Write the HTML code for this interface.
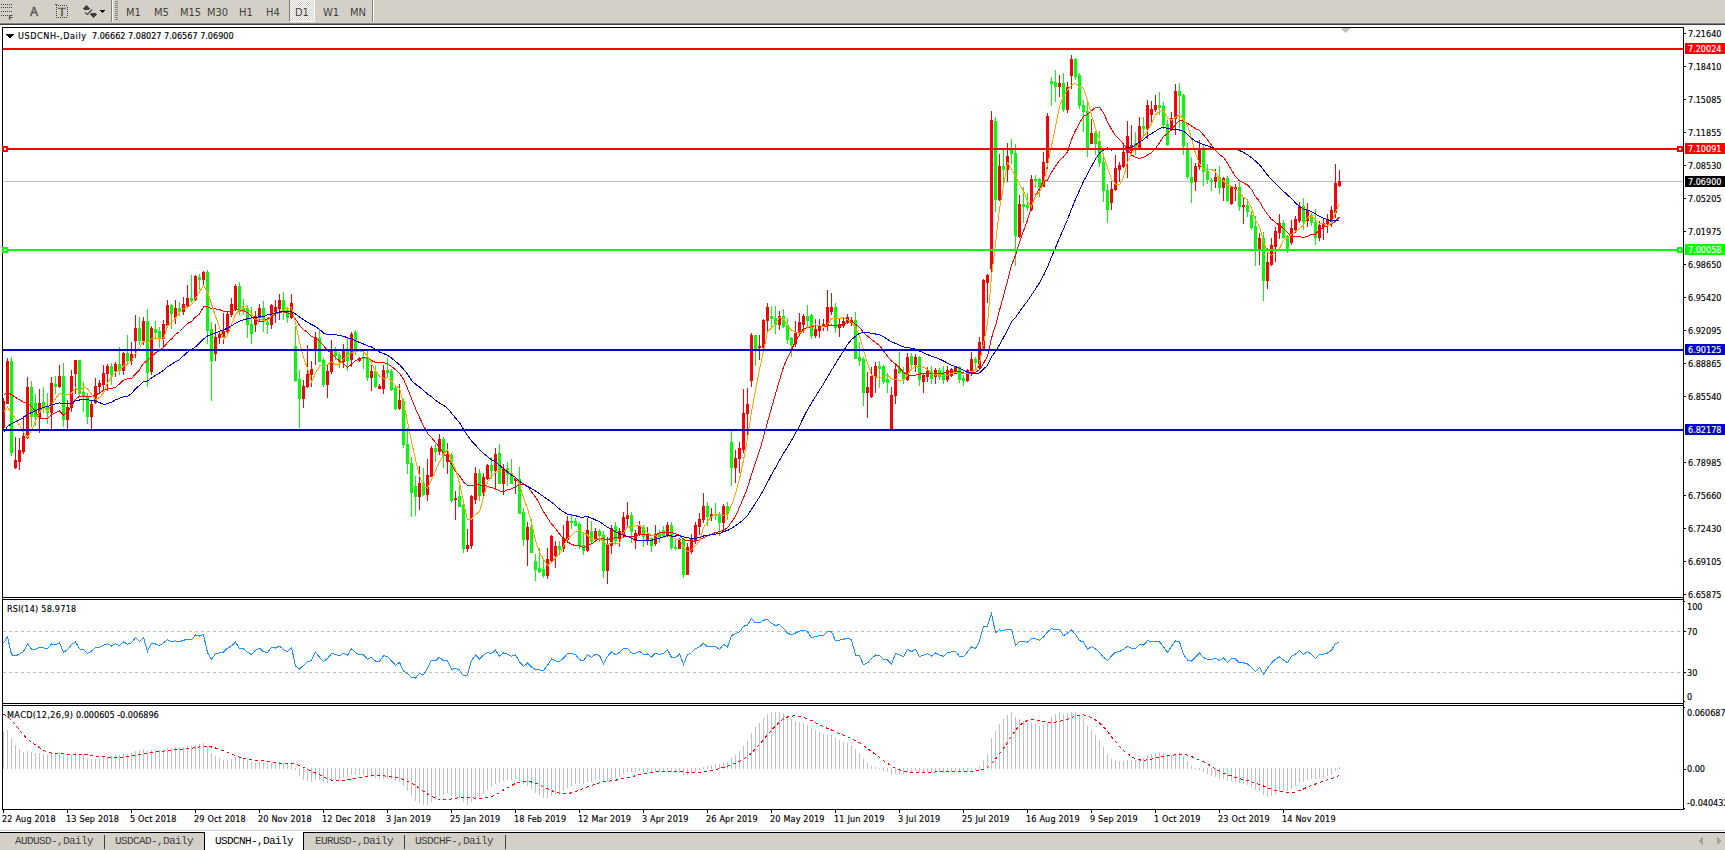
<!DOCTYPE html>
<html><head><meta charset="utf-8"><title>USDCNH-,Daily</title>
<style>
html,body{margin:0;padding:0;background:#fff}
body{width:1725px;height:850px;position:relative;overflow:hidden;font-family:"Liberation Sans",sans-serif}
#tb{position:absolute;left:0;top:0;width:1725px;height:23px;background:#d4d0c8;border-bottom:1px solid #808080}
#tb2{position:absolute;left:0;top:24px;width:1725px;height:1px;background:#404040}
.tf{position:absolute;top:6px;font-family:"DejaVu Sans Condensed","DejaVu Sans","Liberation Sans",sans-serif;font-stretch:condensed;font-size:11px;color:#404040;white-space:nowrap;line-height:13px}
#d1{position:absolute;left:289px;top:0;width:24px;height:21px;background-color:#d4d0c8;background-image:linear-gradient(45deg,#fff 25%,transparent 25%,transparent 75%,#fff 75%),linear-gradient(45deg,#fff 25%,transparent 25%,transparent 75%,#fff 75%);background-size:2px 2px;background-position:0 0,1px 1px;border-left:1px solid #808080;border-right:1px solid #fff;border-bottom:1px solid #fff}
.sep{position:absolute;top:0;width:1px;height:22px;background:#808080;border-right:1px solid #fff}
svg{position:absolute;left:0;top:0}
.ax{position:absolute;font-family:"DejaVu Sans Condensed","DejaVu Sans","Liberation Sans",sans-serif;font-stretch:condensed;font-size:9px;line-height:11px;color:#000;white-space:nowrap;-webkit-text-stroke:.15px}
.bx{position:absolute;left:1685px;width:40px;height:11px;font-family:"DejaVu Sans Condensed","DejaVu Sans","Liberation Sans",sans-serif;font-stretch:condensed;font-size:9px;line-height:11px;white-space:nowrap;overflow:hidden;-webkit-text-stroke:.15px}
.bx span{display:block;position:relative;left:3px;top:1px}
#tabs{position:absolute;left:0;top:833px;width:1725px;height:17px;background:#d4d0c8}
#tabtop{position:absolute;left:0;top:830px;width:1725px;height:1px;background:#d6d2ca}
#tabline{position:absolute;left:0;top:832px;width:1725px;height:1px;background:#000}
#act{position:absolute;left:204px;top:832px;width:98px;height:18px;background:#fff;border-left:1px solid #000;border-right:1px solid #000}
.tab{position:absolute;top:835px;font-family:"Liberation Mono",monospace;font-size:11px;letter-spacing:-.6px;line-height:12px;color:#404040;white-space:nowrap}
.tsep{position:absolute;top:835px;width:1px;height:14px;background:#404040}
</style></head><body>
<div id="tb"></div><div id="tb2"></div>
<div id="d1"></div>
<div class="sep" style="left:111px"></div><div class="sep" style="left:372px"></div>
<div class="tf" style="left:126px">M1</div><div class="tf" style="left:154px">M5</div><div class="tf" style="left:180px">M15</div><div class="tf" style="left:207px">M30</div><div class="tf" style="left:239px">H1</div><div class="tf" style="left:266px">H4</div><div class="tf" style="left:295px">D1</div><div class="tf" style="left:323px">W1</div><div class="tf" style="left:350px">MN</div>
<div class="tf" style="left:30px;top:6px;font-family:'Liberation Sans',sans-serif;font-size:12px;-webkit-text-stroke:.4px;color:#505050">A</div>
<div class="tf" style="left:58px;top:6px;font-family:'Liberation Sans',sans-serif;font-size:11.5px;color:#5a5a5a;-webkit-text-stroke:.4px;transform:scaleX(1.12);transform-origin:0 0">T</div>
<div class="tf" style="left:8.5px;top:13px;font-family:'Liberation Sans',sans-serif;font-size:7px;font-weight:bold;line-height:9px;color:#404040">F</div>
<div id="tabs"></div><div id="tabtop"></div><div id="tabline"></div><div id="act"></div>
<div class="tab" style="left:15px">AUDUSD-,Daily</div><div class="tsep" style="left:104px"></div>
<div class="tab" style="left:115px">USDCAD-,Daily</div>
<div class="tab" style="left:215px;color:#000">USDCNH-,Daily</div>
<div class="tab" style="left:315px">EURUSD-,Daily</div><div class="tsep" style="left:404px"></div>
<div class="tab" style="left:415px">USDCHF-,Daily</div><div class="tsep" style="left:505px"></div>
<svg width="1725" height="850" viewBox="0 0 1725 850" shape-rendering="crispEdges">
<defs><clipPath id="cm"><rect x="3" y="28" width="1680" height="569"/></clipPath>
<clipPath id="cr"><rect x="3" y="600" width="1680" height="103"/></clipPath>
<clipPath id="cd"><rect x="3" y="706" width="1680" height="103"/></clipPath></defs>
<rect x="3" y="181" width="1680" height="1" fill="#c0c0c0"/>
<g clip-path="url(#cm)"><rect x="3" y="398" width="1" height="31" fill="#ff0000"/><rect x="2" y="401" width="3" height="27" fill="#ff0000"/><rect x="7" y="358" width="1" height="46" fill="#ff0000"/><rect x="6" y="361" width="3" height="43" fill="#ff0000"/><rect x="11" y="357" width="1" height="99" fill="#00ff00"/><rect x="10" y="361" width="3" height="92" fill="#00ff00"/><rect x="15" y="437" width="1" height="32" fill="#ff0000"/><rect x="14" y="460" width="3" height="8" fill="#ff0000"/><rect x="19" y="438" width="1" height="32" fill="#ff0000"/><rect x="18" y="450" width="3" height="12" fill="#ff0000"/><rect x="23" y="416" width="1" height="38" fill="#ff0000"/><rect x="22" y="436" width="3" height="16" fill="#ff0000"/><rect x="27" y="377" width="1" height="62" fill="#ff0000"/><rect x="26" y="387" width="3" height="51" fill="#ff0000"/><rect x="31" y="381" width="1" height="46" fill="#00ff00"/><rect x="30" y="387" width="3" height="30" fill="#00ff00"/><rect x="35" y="394" width="1" height="32" fill="#00ff00"/><rect x="34" y="403" width="3" height="14" fill="#00ff00"/><rect x="39" y="389" width="1" height="44" fill="#ff0000"/><rect x="38" y="403" width="3" height="14" fill="#ff0000"/><rect x="43" y="387" width="1" height="26" fill="#00ff00"/><rect x="42" y="402" width="3" height="6" fill="#00ff00"/><rect x="47" y="393" width="1" height="31" fill="#00ff00"/><rect x="46" y="407" width="3" height="6" fill="#00ff00"/><rect x="51" y="377" width="1" height="53" fill="#ff0000"/><rect x="50" y="383" width="3" height="30" fill="#ff0000"/><rect x="55" y="376" width="1" height="18" fill="#00ff00"/><rect x="54" y="384" width="3" height="3" fill="#00ff00"/><rect x="59" y="365" width="1" height="23" fill="#ff0000"/><rect x="58" y="376" width="3" height="11" fill="#ff0000"/><rect x="63" y="363" width="1" height="64" fill="#00ff00"/><rect x="62" y="376" width="3" height="44" fill="#00ff00"/><rect x="67" y="400" width="1" height="30" fill="#ff0000"/><rect x="66" y="407" width="3" height="13" fill="#ff0000"/><rect x="71" y="370" width="1" height="42" fill="#ff0000"/><rect x="70" y="376" width="3" height="32" fill="#ff0000"/><rect x="75" y="360" width="1" height="34" fill="#ff0000"/><rect x="74" y="360" width="3" height="14" fill="#ff0000"/><rect x="79" y="360" width="1" height="37" fill="#00ff00"/><rect x="78" y="360" width="3" height="34" fill="#00ff00"/><rect x="83" y="382" width="1" height="30" fill="#00ff00"/><rect x="82" y="392" width="3" height="5" fill="#00ff00"/><rect x="87" y="393" width="1" height="31" fill="#00ff00"/><rect x="86" y="396" width="3" height="21" fill="#00ff00"/><rect x="91" y="400" width="1" height="30" fill="#ff0000"/><rect x="90" y="404" width="3" height="13" fill="#ff0000"/><rect x="95" y="378" width="1" height="26" fill="#ff0000"/><rect x="94" y="386" width="3" height="17" fill="#ff0000"/><rect x="99" y="380" width="1" height="13" fill="#ff0000"/><rect x="98" y="383" width="3" height="4" fill="#ff0000"/><rect x="103" y="365" width="1" height="25" fill="#ff0000"/><rect x="102" y="373" width="3" height="12" fill="#ff0000"/><rect x="107" y="364" width="1" height="27" fill="#ff0000"/><rect x="106" y="366" width="3" height="8" fill="#ff0000"/><rect x="111" y="363" width="1" height="22" fill="#00ff00"/><rect x="110" y="366" width="3" height="9" fill="#00ff00"/><rect x="115" y="362" width="1" height="15" fill="#ff0000"/><rect x="114" y="364" width="3" height="7" fill="#ff0000"/><rect x="119" y="347" width="1" height="28" fill="#00ff00"/><rect x="118" y="364" width="3" height="7" fill="#00ff00"/><rect x="123" y="352" width="1" height="23" fill="#ff0000"/><rect x="122" y="353" width="3" height="18" fill="#ff0000"/><rect x="127" y="335" width="1" height="29" fill="#00ff00"/><rect x="126" y="353" width="3" height="8" fill="#00ff00"/><rect x="131" y="342" width="1" height="23" fill="#ff0000"/><rect x="130" y="354" width="3" height="7" fill="#ff0000"/><rect x="135" y="315" width="1" height="43" fill="#ff0000"/><rect x="134" y="328" width="3" height="13" fill="#ff0000"/><rect x="139" y="317" width="1" height="28" fill="#00ff00"/><rect x="138" y="328" width="3" height="13" fill="#00ff00"/><rect x="143" y="317" width="1" height="28" fill="#ff0000"/><rect x="142" y="321" width="3" height="20" fill="#ff0000"/><rect x="147" y="309" width="1" height="78" fill="#00ff00"/><rect x="146" y="321" width="3" height="52" fill="#00ff00"/><rect x="151" y="326" width="1" height="49" fill="#ff0000"/><rect x="150" y="328" width="3" height="44" fill="#ff0000"/><rect x="155" y="321" width="1" height="18" fill="#00ff00"/><rect x="154" y="329" width="3" height="4" fill="#00ff00"/><rect x="159" y="327" width="1" height="21" fill="#00ff00"/><rect x="158" y="331" width="3" height="8" fill="#00ff00"/><rect x="163" y="320" width="1" height="28" fill="#ff0000"/><rect x="162" y="324" width="3" height="15" fill="#ff0000"/><rect x="167" y="300" width="1" height="27" fill="#ff0000"/><rect x="166" y="305" width="3" height="21" fill="#ff0000"/><rect x="171" y="304" width="1" height="25" fill="#00ff00"/><rect x="170" y="305" width="3" height="9" fill="#00ff00"/><rect x="175" y="300" width="1" height="24" fill="#ff0000"/><rect x="174" y="308" width="3" height="10" fill="#ff0000"/><rect x="179" y="302" width="1" height="14" fill="#00ff00"/><rect x="178" y="308" width="3" height="4" fill="#00ff00"/><rect x="183" y="297" width="1" height="18" fill="#ff0000"/><rect x="182" y="304" width="3" height="8" fill="#ff0000"/><rect x="187" y="285" width="1" height="22" fill="#ff0000"/><rect x="186" y="298" width="3" height="8" fill="#ff0000"/><rect x="191" y="275" width="1" height="28" fill="#00ff00"/><rect x="190" y="298" width="3" height="3" fill="#00ff00"/><rect x="195" y="275" width="1" height="26" fill="#ff0000"/><rect x="194" y="276" width="3" height="24" fill="#ff0000"/><rect x="199" y="274" width="1" height="16" fill="#00ff00"/><rect x="198" y="277" width="3" height="3" fill="#00ff00"/><rect x="203" y="271" width="1" height="14" fill="#ff0000"/><rect x="202" y="272" width="3" height="8" fill="#ff0000"/><rect x="207" y="270" width="1" height="74" fill="#00ff00"/><rect x="206" y="272" width="3" height="59" fill="#00ff00"/><rect x="211" y="322" width="1" height="79" fill="#00ff00"/><rect x="210" y="329" width="3" height="32" fill="#00ff00"/><rect x="215" y="324" width="1" height="37" fill="#ff0000"/><rect x="214" y="337" width="3" height="17" fill="#ff0000"/><rect x="219" y="332" width="1" height="12" fill="#ff0000"/><rect x="218" y="334" width="3" height="4" fill="#ff0000"/><rect x="223" y="313" width="1" height="31" fill="#ff0000"/><rect x="222" y="331" width="3" height="7" fill="#ff0000"/><rect x="227" y="311" width="1" height="22" fill="#ff0000"/><rect x="226" y="314" width="3" height="18" fill="#ff0000"/><rect x="231" y="298" width="1" height="19" fill="#ff0000"/><rect x="230" y="304" width="3" height="11" fill="#ff0000"/><rect x="235" y="284" width="1" height="27" fill="#ff0000"/><rect x="234" y="286" width="3" height="24" fill="#ff0000"/><rect x="239" y="282" width="1" height="33" fill="#00ff00"/><rect x="238" y="286" width="3" height="26" fill="#00ff00"/><rect x="243" y="299" width="1" height="16" fill="#00ff00"/><rect x="242" y="308" width="3" height="4" fill="#00ff00"/><rect x="247" y="305" width="1" height="33" fill="#00ff00"/><rect x="246" y="308" width="3" height="17" fill="#00ff00"/><rect x="251" y="307" width="1" height="37" fill="#00ff00"/><rect x="250" y="324" width="3" height="10" fill="#00ff00"/><rect x="255" y="311" width="1" height="21" fill="#ff0000"/><rect x="254" y="316" width="3" height="9" fill="#ff0000"/><rect x="259" y="304" width="1" height="18" fill="#ff0000"/><rect x="258" y="308" width="3" height="10" fill="#ff0000"/><rect x="263" y="301" width="1" height="31" fill="#00ff00"/><rect x="262" y="308" width="3" height="14" fill="#00ff00"/><rect x="267" y="318" width="1" height="16" fill="#00ff00"/><rect x="266" y="322" width="3" height="3" fill="#00ff00"/><rect x="271" y="304" width="1" height="25" fill="#ff0000"/><rect x="270" y="305" width="3" height="20" fill="#ff0000"/><rect x="275" y="300" width="1" height="23" fill="#ff0000"/><rect x="274" y="307" width="3" height="5" fill="#ff0000"/><rect x="279" y="294" width="1" height="26" fill="#ff0000"/><rect x="278" y="300" width="3" height="9" fill="#ff0000"/><rect x="283" y="292" width="1" height="28" fill="#00ff00"/><rect x="282" y="300" width="3" height="11" fill="#00ff00"/><rect x="287" y="307" width="1" height="16" fill="#00ff00"/><rect x="286" y="310" width="3" height="8" fill="#00ff00"/><rect x="291" y="294" width="1" height="25" fill="#ff0000"/><rect x="290" y="303" width="3" height="15" fill="#ff0000"/><rect x="295" y="326" width="1" height="56" fill="#00ff00"/><rect x="294" y="346" width="3" height="35" fill="#00ff00"/><rect x="299" y="370" width="1" height="58" fill="#00ff00"/><rect x="298" y="379" width="3" height="20" fill="#00ff00"/><rect x="303" y="380" width="1" height="28" fill="#ff0000"/><rect x="302" y="386" width="3" height="13" fill="#ff0000"/><rect x="307" y="345" width="1" height="43" fill="#ff0000"/><rect x="306" y="374" width="3" height="13" fill="#ff0000"/><rect x="311" y="361" width="1" height="26" fill="#ff0000"/><rect x="310" y="369" width="3" height="6" fill="#ff0000"/><rect x="315" y="332" width="1" height="33" fill="#ff0000"/><rect x="314" y="337" width="3" height="14" fill="#ff0000"/><rect x="319" y="330" width="1" height="32" fill="#00ff00"/><rect x="318" y="338" width="3" height="24" fill="#00ff00"/><rect x="323" y="358" width="1" height="29" fill="#00ff00"/><rect x="322" y="360" width="3" height="25" fill="#00ff00"/><rect x="327" y="365" width="1" height="33" fill="#ff0000"/><rect x="326" y="371" width="3" height="14" fill="#ff0000"/><rect x="331" y="340" width="1" height="34" fill="#ff0000"/><rect x="330" y="351" width="3" height="21" fill="#ff0000"/><rect x="335" y="347" width="1" height="13" fill="#00ff00"/><rect x="334" y="351" width="3" height="5" fill="#00ff00"/><rect x="339" y="352" width="1" height="16" fill="#00ff00"/><rect x="338" y="355" width="3" height="7" fill="#00ff00"/><rect x="343" y="344" width="1" height="24" fill="#ff0000"/><rect x="342" y="351" width="3" height="11" fill="#ff0000"/><rect x="347" y="338" width="1" height="33" fill="#00ff00"/><rect x="346" y="351" width="3" height="10" fill="#00ff00"/><rect x="351" y="332" width="1" height="35" fill="#ff0000"/><rect x="350" y="334" width="3" height="26" fill="#ff0000"/><rect x="355" y="330" width="1" height="25" fill="#00ff00"/><rect x="354" y="332" width="3" height="18" fill="#00ff00"/><rect x="359" y="357" width="1" height="5" fill="#ff0000"/><rect x="358" y="358" width="3" height="3" fill="#ff0000"/><rect x="363" y="351" width="1" height="18" fill="#00ff00"/><rect x="362" y="357" width="3" height="2" fill="#00ff00"/><rect x="367" y="351" width="1" height="30" fill="#00ff00"/><rect x="366" y="358" width="3" height="20" fill="#00ff00"/><rect x="371" y="365" width="1" height="26" fill="#ff0000"/><rect x="370" y="371" width="3" height="7" fill="#ff0000"/><rect x="375" y="366" width="1" height="22" fill="#00ff00"/><rect x="374" y="371" width="3" height="16" fill="#00ff00"/><rect x="379" y="384" width="1" height="5" fill="#ff0000"/><rect x="378" y="386" width="3" height="3" fill="#ff0000"/><rect x="383" y="365" width="1" height="29" fill="#ff0000"/><rect x="382" y="370" width="3" height="19" fill="#ff0000"/><rect x="387" y="358" width="1" height="20" fill="#00ff00"/><rect x="386" y="370" width="3" height="3" fill="#00ff00"/><rect x="391" y="369" width="1" height="22" fill="#00ff00"/><rect x="390" y="371" width="3" height="19" fill="#00ff00"/><rect x="395" y="386" width="1" height="24" fill="#00ff00"/><rect x="394" y="388" width="3" height="21" fill="#00ff00"/><rect x="399" y="384" width="1" height="26" fill="#ff0000"/><rect x="398" y="400" width="3" height="9" fill="#ff0000"/><rect x="403" y="398" width="1" height="50" fill="#00ff00"/><rect x="402" y="401" width="3" height="44" fill="#00ff00"/><rect x="407" y="428" width="1" height="46" fill="#00ff00"/><rect x="406" y="444" width="3" height="20" fill="#00ff00"/><rect x="411" y="457" width="1" height="60" fill="#00ff00"/><rect x="410" y="463" width="3" height="30" fill="#00ff00"/><rect x="415" y="476" width="1" height="40" fill="#00ff00"/><rect x="414" y="486" width="3" height="11" fill="#00ff00"/><rect x="419" y="466" width="1" height="44" fill="#ff0000"/><rect x="418" y="483" width="3" height="14" fill="#ff0000"/><rect x="423" y="468" width="1" height="28" fill="#00ff00"/><rect x="422" y="483" width="3" height="12" fill="#00ff00"/><rect x="427" y="459" width="1" height="42" fill="#ff0000"/><rect x="426" y="475" width="3" height="20" fill="#ff0000"/><rect x="431" y="446" width="1" height="31" fill="#ff0000"/><rect x="430" y="448" width="3" height="29" fill="#ff0000"/><rect x="435" y="444" width="1" height="18" fill="#00ff00"/><rect x="434" y="448" width="3" height="4" fill="#00ff00"/><rect x="439" y="434" width="1" height="21" fill="#ff0000"/><rect x="438" y="439" width="3" height="13" fill="#ff0000"/><rect x="443" y="437" width="1" height="31" fill="#00ff00"/><rect x="442" y="439" width="3" height="17" fill="#00ff00"/><rect x="447" y="443" width="1" height="31" fill="#ff0000"/><rect x="446" y="454" width="3" height="8" fill="#ff0000"/><rect x="451" y="453" width="1" height="50" fill="#00ff00"/><rect x="450" y="455" width="3" height="46" fill="#00ff00"/><rect x="455" y="491" width="1" height="29" fill="#ff0000"/><rect x="454" y="498" width="3" height="2" fill="#ff0000"/><rect x="459" y="486" width="1" height="21" fill="#00ff00"/><rect x="458" y="496" width="3" height="11" fill="#00ff00"/><rect x="463" y="504" width="1" height="49" fill="#00ff00"/><rect x="462" y="505" width="3" height="44" fill="#00ff00"/><rect x="467" y="529" width="1" height="23" fill="#ff0000"/><rect x="466" y="545" width="3" height="4" fill="#ff0000"/><rect x="471" y="495" width="1" height="54" fill="#ff0000"/><rect x="470" y="496" width="3" height="50" fill="#ff0000"/><rect x="475" y="467" width="1" height="37" fill="#ff0000"/><rect x="474" y="473" width="3" height="27" fill="#ff0000"/><rect x="479" y="469" width="1" height="32" fill="#00ff00"/><rect x="478" y="473" width="3" height="23" fill="#00ff00"/><rect x="483" y="473" width="1" height="24" fill="#ff0000"/><rect x="482" y="477" width="3" height="16" fill="#ff0000"/><rect x="487" y="464" width="1" height="16" fill="#ff0000"/><rect x="486" y="465" width="3" height="14" fill="#ff0000"/><rect x="491" y="457" width="1" height="22" fill="#00ff00"/><rect x="490" y="465" width="3" height="6" fill="#00ff00"/><rect x="495" y="448" width="1" height="42" fill="#ff0000"/><rect x="494" y="454" width="3" height="17" fill="#ff0000"/><rect x="499" y="444" width="1" height="40" fill="#00ff00"/><rect x="498" y="453" width="3" height="31" fill="#00ff00"/><rect x="503" y="464" width="1" height="31" fill="#ff0000"/><rect x="502" y="468" width="3" height="16" fill="#ff0000"/><rect x="507" y="462" width="1" height="24" fill="#00ff00"/><rect x="506" y="468" width="3" height="7" fill="#00ff00"/><rect x="511" y="459" width="1" height="25" fill="#00ff00"/><rect x="510" y="473" width="3" height="11" fill="#00ff00"/><rect x="515" y="477" width="1" height="17" fill="#ff0000"/><rect x="514" y="478" width="3" height="3" fill="#ff0000"/><rect x="519" y="467" width="1" height="47" fill="#00ff00"/><rect x="518" y="479" width="3" height="35" fill="#00ff00"/><rect x="523" y="508" width="1" height="38" fill="#00ff00"/><rect x="522" y="512" width="3" height="28" fill="#00ff00"/><rect x="527" y="522" width="1" height="44" fill="#ff0000"/><rect x="526" y="527" width="3" height="13" fill="#ff0000"/><rect x="531" y="519" width="1" height="34" fill="#00ff00"/><rect x="530" y="527" width="3" height="26" fill="#00ff00"/><rect x="535" y="554" width="1" height="27" fill="#00ff00"/><rect x="534" y="561" width="3" height="9" fill="#00ff00"/><rect x="539" y="548" width="1" height="25" fill="#00ff00"/><rect x="538" y="568" width="3" height="4" fill="#00ff00"/><rect x="543" y="558" width="1" height="20" fill="#00ff00"/><rect x="542" y="569" width="3" height="7" fill="#00ff00"/><rect x="547" y="548" width="1" height="31" fill="#ff0000"/><rect x="546" y="559" width="3" height="17" fill="#ff0000"/><rect x="551" y="535" width="1" height="27" fill="#ff0000"/><rect x="550" y="536" width="3" height="25" fill="#ff0000"/><rect x="555" y="541" width="1" height="27" fill="#ff0000"/><rect x="554" y="546" width="3" height="10" fill="#ff0000"/><rect x="559" y="541" width="1" height="14" fill="#00ff00"/><rect x="558" y="546" width="3" height="4" fill="#00ff00"/><rect x="563" y="525" width="1" height="27" fill="#ff0000"/><rect x="562" y="538" width="3" height="11" fill="#ff0000"/><rect x="567" y="516" width="1" height="27" fill="#ff0000"/><rect x="566" y="521" width="3" height="19" fill="#ff0000"/><rect x="571" y="515" width="1" height="14" fill="#00ff00"/><rect x="570" y="521" width="3" height="2" fill="#00ff00"/><rect x="575" y="518" width="1" height="8" fill="#00ff00"/><rect x="574" y="521" width="3" height="5" fill="#00ff00"/><rect x="579" y="522" width="1" height="27" fill="#00ff00"/><rect x="578" y="524" width="3" height="22" fill="#00ff00"/><rect x="583" y="532" width="1" height="23" fill="#00ff00"/><rect x="582" y="545" width="3" height="6" fill="#00ff00"/><rect x="587" y="518" width="1" height="34" fill="#ff0000"/><rect x="586" y="530" width="3" height="21" fill="#ff0000"/><rect x="591" y="521" width="1" height="22" fill="#00ff00"/><rect x="590" y="531" width="3" height="11" fill="#00ff00"/><rect x="595" y="528" width="1" height="13" fill="#ff0000"/><rect x="594" y="531" width="3" height="8" fill="#ff0000"/><rect x="599" y="529" width="1" height="13" fill="#00ff00"/><rect x="598" y="531" width="3" height="5" fill="#00ff00"/><rect x="603" y="531" width="1" height="47" fill="#00ff00"/><rect x="602" y="535" width="3" height="36" fill="#00ff00"/><rect x="607" y="537" width="1" height="47" fill="#ff0000"/><rect x="606" y="545" width="3" height="26" fill="#ff0000"/><rect x="611" y="525" width="1" height="29" fill="#ff0000"/><rect x="610" y="528" width="3" height="18" fill="#ff0000"/><rect x="615" y="522" width="1" height="22" fill="#00ff00"/><rect x="614" y="526" width="3" height="15" fill="#00ff00"/><rect x="619" y="528" width="1" height="19" fill="#ff0000"/><rect x="618" y="531" width="3" height="8" fill="#ff0000"/><rect x="623" y="512" width="1" height="26" fill="#ff0000"/><rect x="622" y="517" width="3" height="19" fill="#ff0000"/><rect x="627" y="502" width="1" height="24" fill="#ff0000"/><rect x="626" y="515" width="3" height="4" fill="#ff0000"/><rect x="631" y="512" width="1" height="31" fill="#00ff00"/><rect x="630" y="515" width="3" height="17" fill="#00ff00"/><rect x="635" y="530" width="1" height="19" fill="#ff0000"/><rect x="634" y="533" width="3" height="8" fill="#ff0000"/><rect x="639" y="521" width="1" height="15" fill="#ff0000"/><rect x="638" y="526" width="3" height="9" fill="#ff0000"/><rect x="643" y="525" width="1" height="22" fill="#00ff00"/><rect x="642" y="527" width="3" height="10" fill="#00ff00"/><rect x="647" y="527" width="1" height="18" fill="#ff0000"/><rect x="646" y="535" width="3" height="6" fill="#ff0000"/><rect x="651" y="537" width="1" height="15" fill="#00ff00"/><rect x="650" y="538" width="3" height="8" fill="#00ff00"/><rect x="655" y="525" width="1" height="21" fill="#ff0000"/><rect x="654" y="534" width="3" height="10" fill="#ff0000"/><rect x="659" y="530" width="1" height="13" fill="#00ff00"/><rect x="658" y="533" width="3" height="6" fill="#00ff00"/><rect x="663" y="526" width="1" height="12" fill="#00ff00"/><rect x="662" y="530" width="3" height="6" fill="#00ff00"/><rect x="667" y="522" width="1" height="15" fill="#ff0000"/><rect x="666" y="525" width="3" height="11" fill="#ff0000"/><rect x="671" y="522" width="1" height="28" fill="#00ff00"/><rect x="670" y="525" width="3" height="23" fill="#00ff00"/><rect x="675" y="539" width="1" height="11" fill="#00ff00"/><rect x="674" y="547" width="3" height="2" fill="#00ff00"/><rect x="679" y="538" width="1" height="11" fill="#ff0000"/><rect x="678" y="539" width="3" height="10" fill="#ff0000"/><rect x="683" y="538" width="1" height="40" fill="#00ff00"/><rect x="682" y="539" width="3" height="36" fill="#00ff00"/><rect x="687" y="543" width="1" height="32" fill="#ff0000"/><rect x="686" y="547" width="3" height="28" fill="#ff0000"/><rect x="691" y="534" width="1" height="20" fill="#ff0000"/><rect x="690" y="539" width="3" height="13" fill="#ff0000"/><rect x="695" y="522" width="1" height="22" fill="#ff0000"/><rect x="694" y="525" width="3" height="16" fill="#ff0000"/><rect x="699" y="513" width="1" height="22" fill="#ff0000"/><rect x="698" y="519" width="3" height="8" fill="#ff0000"/><rect x="703" y="493" width="1" height="30" fill="#ff0000"/><rect x="702" y="506" width="3" height="14" fill="#ff0000"/><rect x="707" y="502" width="1" height="24" fill="#00ff00"/><rect x="706" y="506" width="3" height="11" fill="#00ff00"/><rect x="711" y="508" width="1" height="13" fill="#ff0000"/><rect x="710" y="514" width="3" height="3" fill="#ff0000"/><rect x="715" y="503" width="1" height="17" fill="#00ff00"/><rect x="714" y="514" width="3" height="2" fill="#00ff00"/><rect x="719" y="512" width="1" height="24" fill="#00ff00"/><rect x="718" y="514" width="3" height="9" fill="#00ff00"/><rect x="723" y="504" width="1" height="26" fill="#ff0000"/><rect x="722" y="506" width="3" height="17" fill="#ff0000"/><rect x="727" y="502" width="1" height="18" fill="#00ff00"/><rect x="726" y="506" width="3" height="8" fill="#00ff00"/><rect x="731" y="431" width="1" height="55" fill="#00ff00"/><rect x="730" y="442" width="3" height="26" fill="#00ff00"/><rect x="735" y="450" width="1" height="33" fill="#ff0000"/><rect x="734" y="458" width="3" height="10" fill="#ff0000"/><rect x="739" y="442" width="1" height="31" fill="#ff0000"/><rect x="738" y="448" width="3" height="11" fill="#ff0000"/><rect x="743" y="389" width="1" height="64" fill="#ff0000"/><rect x="742" y="413" width="3" height="37" fill="#ff0000"/><rect x="747" y="388" width="1" height="48" fill="#ff0000"/><rect x="746" y="404" width="3" height="10" fill="#ff0000"/><rect x="751" y="333" width="1" height="54" fill="#ff0000"/><rect x="750" y="335" width="3" height="46" fill="#ff0000"/><rect x="755" y="335" width="1" height="31" fill="#00ff00"/><rect x="754" y="335" width="3" height="14" fill="#00ff00"/><rect x="759" y="335" width="1" height="25" fill="#ff0000"/><rect x="758" y="346" width="3" height="2" fill="#ff0000"/><rect x="763" y="319" width="1" height="30" fill="#ff0000"/><rect x="762" y="320" width="3" height="28" fill="#ff0000"/><rect x="767" y="303" width="1" height="28" fill="#ff0000"/><rect x="766" y="307" width="3" height="14" fill="#ff0000"/><rect x="771" y="306" width="1" height="22" fill="#00ff00"/><rect x="770" y="316" width="3" height="3" fill="#00ff00"/><rect x="775" y="306" width="1" height="28" fill="#00ff00"/><rect x="774" y="318" width="3" height="7" fill="#00ff00"/><rect x="779" y="311" width="1" height="19" fill="#ff0000"/><rect x="778" y="316" width="3" height="9" fill="#ff0000"/><rect x="783" y="309" width="1" height="19" fill="#00ff00"/><rect x="782" y="316" width="3" height="11" fill="#00ff00"/><rect x="787" y="318" width="1" height="26" fill="#00ff00"/><rect x="786" y="325" width="3" height="15" fill="#00ff00"/><rect x="791" y="337" width="1" height="20" fill="#00ff00"/><rect x="790" y="338" width="3" height="7" fill="#00ff00"/><rect x="795" y="321" width="1" height="26" fill="#ff0000"/><rect x="794" y="333" width="3" height="11" fill="#ff0000"/><rect x="799" y="313" width="1" height="21" fill="#ff0000"/><rect x="798" y="322" width="3" height="12" fill="#ff0000"/><rect x="803" y="314" width="1" height="19" fill="#ff0000"/><rect x="802" y="316" width="3" height="9" fill="#ff0000"/><rect x="807" y="305" width="1" height="23" fill="#00ff00"/><rect x="806" y="316" width="3" height="5" fill="#00ff00"/><rect x="811" y="314" width="1" height="25" fill="#00ff00"/><rect x="810" y="315" width="3" height="21" fill="#00ff00"/><rect x="815" y="319" width="1" height="19" fill="#ff0000"/><rect x="814" y="329" width="3" height="7" fill="#ff0000"/><rect x="819" y="319" width="1" height="19" fill="#ff0000"/><rect x="818" y="325" width="3" height="6" fill="#ff0000"/><rect x="823" y="319" width="1" height="12" fill="#ff0000"/><rect x="822" y="324" width="3" height="3" fill="#ff0000"/><rect x="827" y="290" width="1" height="41" fill="#ff0000"/><rect x="826" y="307" width="3" height="19" fill="#ff0000"/><rect x="831" y="293" width="1" height="22" fill="#ff0000"/><rect x="830" y="307" width="3" height="5" fill="#ff0000"/><rect x="835" y="303" width="1" height="30" fill="#00ff00"/><rect x="834" y="307" width="3" height="21" fill="#00ff00"/><rect x="839" y="318" width="1" height="19" fill="#ff0000"/><rect x="838" y="324" width="3" height="4" fill="#ff0000"/><rect x="843" y="317" width="1" height="11" fill="#ff0000"/><rect x="842" y="321" width="3" height="5" fill="#ff0000"/><rect x="847" y="314" width="1" height="10" fill="#ff0000"/><rect x="846" y="317" width="3" height="6" fill="#ff0000"/><rect x="851" y="317" width="1" height="9" fill="#ff0000"/><rect x="850" y="320" width="3" height="3" fill="#ff0000"/><rect x="855" y="312" width="1" height="47" fill="#00ff00"/><rect x="854" y="320" width="3" height="39" fill="#00ff00"/><rect x="859" y="342" width="1" height="24" fill="#00ff00"/><rect x="858" y="357" width="3" height="4" fill="#00ff00"/><rect x="863" y="357" width="1" height="49" fill="#00ff00"/><rect x="862" y="359" width="3" height="34" fill="#00ff00"/><rect x="867" y="372" width="1" height="46" fill="#ff0000"/><rect x="866" y="387" width="3" height="6" fill="#ff0000"/><rect x="871" y="367" width="1" height="31" fill="#ff0000"/><rect x="870" y="376" width="3" height="21" fill="#ff0000"/><rect x="875" y="362" width="1" height="31" fill="#ff0000"/><rect x="874" y="366" width="3" height="11" fill="#ff0000"/><rect x="879" y="361" width="1" height="27" fill="#00ff00"/><rect x="878" y="366" width="3" height="3" fill="#00ff00"/><rect x="883" y="365" width="1" height="19" fill="#00ff00"/><rect x="882" y="366" width="3" height="16" fill="#00ff00"/><rect x="887" y="373" width="1" height="20" fill="#00ff00"/><rect x="886" y="379" width="3" height="4" fill="#00ff00"/><rect x="891" y="387" width="1" height="44" fill="#ff0000"/><rect x="890" y="395" width="3" height="34" fill="#ff0000"/><rect x="895" y="363" width="1" height="41" fill="#ff0000"/><rect x="894" y="369" width="3" height="27" fill="#ff0000"/><rect x="899" y="352" width="1" height="22" fill="#00ff00"/><rect x="898" y="368" width="3" height="5" fill="#00ff00"/><rect x="903" y="367" width="1" height="17" fill="#00ff00"/><rect x="902" y="372" width="3" height="8" fill="#00ff00"/><rect x="907" y="353" width="1" height="28" fill="#ff0000"/><rect x="906" y="357" width="3" height="23" fill="#ff0000"/><rect x="911" y="353" width="1" height="15" fill="#00ff00"/><rect x="910" y="356" width="3" height="9" fill="#00ff00"/><rect x="915" y="354" width="1" height="18" fill="#ff0000"/><rect x="914" y="357" width="3" height="8" fill="#ff0000"/><rect x="919" y="356" width="1" height="30" fill="#00ff00"/><rect x="918" y="357" width="3" height="23" fill="#00ff00"/><rect x="923" y="373" width="1" height="20" fill="#ff0000"/><rect x="922" y="375" width="3" height="7" fill="#ff0000"/><rect x="927" y="367" width="1" height="15" fill="#ff0000"/><rect x="926" y="371" width="3" height="6" fill="#ff0000"/><rect x="931" y="366" width="1" height="18" fill="#00ff00"/><rect x="930" y="372" width="3" height="7" fill="#00ff00"/><rect x="935" y="368" width="1" height="16" fill="#ff0000"/><rect x="934" y="370" width="3" height="7" fill="#ff0000"/><rect x="939" y="368" width="1" height="12" fill="#00ff00"/><rect x="938" y="370" width="3" height="7" fill="#00ff00"/><rect x="943" y="366" width="1" height="18" fill="#00ff00"/><rect x="942" y="372" width="3" height="8" fill="#00ff00"/><rect x="947" y="366" width="1" height="16" fill="#ff0000"/><rect x="946" y="370" width="3" height="10" fill="#ff0000"/><rect x="951" y="368" width="1" height="9" fill="#ff0000"/><rect x="950" y="369" width="3" height="7" fill="#ff0000"/><rect x="955" y="366" width="1" height="8" fill="#ff0000"/><rect x="954" y="367" width="3" height="7" fill="#ff0000"/><rect x="959" y="366" width="1" height="17" fill="#00ff00"/><rect x="958" y="367" width="3" height="13" fill="#00ff00"/><rect x="963" y="375" width="1" height="11" fill="#00ff00"/><rect x="962" y="378" width="3" height="3" fill="#00ff00"/><rect x="967" y="369" width="1" height="13" fill="#ff0000"/><rect x="966" y="370" width="3" height="11" fill="#ff0000"/><rect x="971" y="352" width="1" height="24" fill="#ff0000"/><rect x="970" y="359" width="3" height="14" fill="#ff0000"/><rect x="975" y="357" width="1" height="13" fill="#00ff00"/><rect x="974" y="359" width="3" height="4" fill="#00ff00"/><rect x="979" y="337" width="1" height="32" fill="#ff0000"/><rect x="978" y="342" width="3" height="26" fill="#ff0000"/><rect x="983" y="279" width="1" height="72" fill="#ff0000"/><rect x="982" y="280" width="3" height="70" fill="#ff0000"/><rect x="987" y="274" width="1" height="29" fill="#ff0000"/><rect x="986" y="275" width="3" height="8" fill="#ff0000"/><rect x="991" y="111" width="1" height="162" fill="#ff0000"/><rect x="990" y="120" width="3" height="149" fill="#ff0000"/><rect x="995" y="117" width="1" height="95" fill="#00ff00"/><rect x="994" y="121" width="3" height="79" fill="#00ff00"/><rect x="999" y="154" width="1" height="47" fill="#ff0000"/><rect x="998" y="166" width="3" height="34" fill="#ff0000"/><rect x="1003" y="150" width="1" height="34" fill="#00ff00"/><rect x="1002" y="166" width="3" height="4" fill="#00ff00"/><rect x="1007" y="143" width="1" height="39" fill="#ff0000"/><rect x="1006" y="156" width="3" height="14" fill="#ff0000"/><rect x="1011" y="139" width="1" height="25" fill="#00ff00"/><rect x="1010" y="149" width="3" height="5" fill="#00ff00"/><rect x="1015" y="144" width="1" height="122" fill="#00ff00"/><rect x="1014" y="153" width="3" height="83" fill="#00ff00"/><rect x="1019" y="195" width="1" height="43" fill="#ff0000"/><rect x="1018" y="204" width="3" height="33" fill="#ff0000"/><rect x="1023" y="187" width="1" height="36" fill="#00ff00"/><rect x="1022" y="204" width="3" height="3" fill="#00ff00"/><rect x="1027" y="193" width="1" height="18" fill="#00ff00"/><rect x="1026" y="205" width="3" height="3" fill="#00ff00"/><rect x="1031" y="175" width="1" height="36" fill="#ff0000"/><rect x="1030" y="179" width="3" height="31" fill="#ff0000"/><rect x="1035" y="175" width="1" height="13" fill="#00ff00"/><rect x="1034" y="179" width="3" height="2" fill="#00ff00"/><rect x="1039" y="178" width="1" height="19" fill="#00ff00"/><rect x="1038" y="179" width="3" height="8" fill="#00ff00"/><rect x="1043" y="152" width="1" height="35" fill="#ff0000"/><rect x="1042" y="162" width="3" height="25" fill="#ff0000"/><rect x="1047" y="113" width="1" height="56" fill="#ff0000"/><rect x="1046" y="116" width="3" height="47" fill="#ff0000"/><rect x="1051" y="77" width="1" height="29" fill="#00ff00"/><rect x="1050" y="81" width="3" height="3" fill="#00ff00"/><rect x="1055" y="70" width="1" height="32" fill="#00ff00"/><rect x="1054" y="82" width="3" height="5" fill="#00ff00"/><rect x="1059" y="75" width="1" height="22" fill="#ff0000"/><rect x="1058" y="83" width="3" height="4" fill="#ff0000"/><rect x="1063" y="73" width="1" height="39" fill="#00ff00"/><rect x="1062" y="83" width="3" height="27" fill="#00ff00"/><rect x="1067" y="82" width="1" height="31" fill="#ff0000"/><rect x="1066" y="87" width="3" height="23" fill="#ff0000"/><rect x="1071" y="55" width="1" height="34" fill="#ff0000"/><rect x="1070" y="59" width="3" height="17" fill="#ff0000"/><rect x="1075" y="58" width="1" height="22" fill="#00ff00"/><rect x="1074" y="59" width="3" height="18" fill="#00ff00"/><rect x="1079" y="73" width="1" height="36" fill="#00ff00"/><rect x="1078" y="75" width="3" height="31" fill="#00ff00"/><rect x="1083" y="100" width="1" height="32" fill="#00ff00"/><rect x="1082" y="105" width="3" height="7" fill="#00ff00"/><rect x="1087" y="102" width="1" height="55" fill="#00ff00"/><rect x="1086" y="111" width="3" height="37" fill="#00ff00"/><rect x="1091" y="119" width="1" height="25" fill="#ff0000"/><rect x="1090" y="133" width="3" height="11" fill="#ff0000"/><rect x="1095" y="131" width="1" height="24" fill="#00ff00"/><rect x="1094" y="133" width="3" height="11" fill="#00ff00"/><rect x="1099" y="131" width="1" height="36" fill="#00ff00"/><rect x="1098" y="141" width="3" height="22" fill="#00ff00"/><rect x="1103" y="157" width="1" height="45" fill="#00ff00"/><rect x="1102" y="162" width="3" height="29" fill="#00ff00"/><rect x="1107" y="184" width="1" height="39" fill="#00ff00"/><rect x="1106" y="190" width="3" height="20" fill="#00ff00"/><rect x="1111" y="181" width="1" height="29" fill="#ff0000"/><rect x="1110" y="189" width="3" height="14" fill="#ff0000"/><rect x="1115" y="155" width="1" height="36" fill="#ff0000"/><rect x="1114" y="168" width="3" height="22" fill="#ff0000"/><rect x="1119" y="162" width="1" height="20" fill="#ff0000"/><rect x="1118" y="165" width="3" height="5" fill="#ff0000"/><rect x="1123" y="145" width="1" height="23" fill="#ff0000"/><rect x="1122" y="152" width="3" height="15" fill="#ff0000"/><rect x="1127" y="121" width="1" height="57" fill="#ff0000"/><rect x="1126" y="136" width="3" height="17" fill="#ff0000"/><rect x="1131" y="125" width="1" height="31" fill="#ff0000"/><rect x="1130" y="145" width="3" height="6" fill="#ff0000"/><rect x="1135" y="132" width="1" height="23" fill="#00ff00"/><rect x="1134" y="143" width="3" height="5" fill="#00ff00"/><rect x="1139" y="117" width="1" height="31" fill="#ff0000"/><rect x="1138" y="126" width="3" height="22" fill="#ff0000"/><rect x="1143" y="117" width="1" height="20" fill="#00ff00"/><rect x="1142" y="126" width="3" height="3" fill="#00ff00"/><rect x="1147" y="100" width="1" height="39" fill="#ff0000"/><rect x="1146" y="105" width="3" height="24" fill="#ff0000"/><rect x="1151" y="101" width="1" height="21" fill="#ff0000"/><rect x="1150" y="109" width="3" height="6" fill="#ff0000"/><rect x="1155" y="95" width="1" height="17" fill="#ff0000"/><rect x="1154" y="105" width="3" height="5" fill="#ff0000"/><rect x="1159" y="92" width="1" height="23" fill="#00ff00"/><rect x="1158" y="105" width="3" height="3" fill="#00ff00"/><rect x="1163" y="102" width="1" height="27" fill="#00ff00"/><rect x="1162" y="106" width="3" height="19" fill="#00ff00"/><rect x="1167" y="120" width="1" height="26" fill="#00ff00"/><rect x="1166" y="124" width="3" height="21" fill="#00ff00"/><rect x="1171" y="112" width="1" height="19" fill="#ff0000"/><rect x="1170" y="118" width="3" height="11" fill="#ff0000"/><rect x="1175" y="84" width="1" height="51" fill="#ff0000"/><rect x="1174" y="91" width="3" height="28" fill="#ff0000"/><rect x="1179" y="83" width="1" height="45" fill="#00ff00"/><rect x="1178" y="91" width="3" height="5" fill="#00ff00"/><rect x="1183" y="94" width="1" height="61" fill="#00ff00"/><rect x="1182" y="95" width="3" height="51" fill="#00ff00"/><rect x="1187" y="143" width="1" height="36" fill="#00ff00"/><rect x="1186" y="148" width="3" height="29" fill="#00ff00"/><rect x="1191" y="157" width="1" height="46" fill="#00ff00"/><rect x="1190" y="177" width="3" height="6" fill="#00ff00"/><rect x="1195" y="163" width="1" height="28" fill="#ff0000"/><rect x="1194" y="166" width="3" height="16" fill="#ff0000"/><rect x="1199" y="140" width="1" height="30" fill="#ff0000"/><rect x="1198" y="148" width="3" height="19" fill="#ff0000"/><rect x="1203" y="144" width="1" height="42" fill="#00ff00"/><rect x="1202" y="149" width="3" height="23" fill="#00ff00"/><rect x="1207" y="164" width="1" height="20" fill="#00ff00"/><rect x="1206" y="171" width="3" height="9" fill="#00ff00"/><rect x="1211" y="178" width="1" height="13" fill="#00ff00"/><rect x="1210" y="180" width="3" height="2" fill="#00ff00"/><rect x="1215" y="169" width="1" height="19" fill="#ff0000"/><rect x="1214" y="177" width="3" height="5" fill="#ff0000"/><rect x="1219" y="166" width="1" height="28" fill="#00ff00"/><rect x="1218" y="177" width="3" height="11" fill="#00ff00"/><rect x="1223" y="177" width="1" height="24" fill="#ff0000"/><rect x="1222" y="178" width="3" height="10" fill="#ff0000"/><rect x="1227" y="176" width="1" height="26" fill="#00ff00"/><rect x="1226" y="178" width="3" height="23" fill="#00ff00"/><rect x="1231" y="187" width="1" height="18" fill="#ff0000"/><rect x="1230" y="187" width="3" height="17" fill="#ff0000"/><rect x="1235" y="184" width="1" height="17" fill="#ff0000"/><rect x="1234" y="187" width="3" height="2" fill="#ff0000"/><rect x="1239" y="182" width="1" height="29" fill="#00ff00"/><rect x="1238" y="187" width="3" height="20" fill="#00ff00"/><rect x="1243" y="198" width="1" height="26" fill="#ff0000"/><rect x="1242" y="205" width="3" height="2" fill="#ff0000"/><rect x="1247" y="200" width="1" height="17" fill="#00ff00"/><rect x="1246" y="205" width="3" height="7" fill="#00ff00"/><rect x="1251" y="211" width="1" height="19" fill="#00ff00"/><rect x="1250" y="215" width="3" height="13" fill="#00ff00"/><rect x="1255" y="216" width="1" height="50" fill="#00ff00"/><rect x="1254" y="226" width="3" height="25" fill="#00ff00"/><rect x="1259" y="233" width="1" height="32" fill="#ff0000"/><rect x="1258" y="238" width="3" height="13" fill="#ff0000"/><rect x="1263" y="232" width="1" height="69" fill="#00ff00"/><rect x="1262" y="238" width="3" height="43" fill="#00ff00"/><rect x="1267" y="248" width="1" height="41" fill="#ff0000"/><rect x="1266" y="262" width="3" height="19" fill="#ff0000"/><rect x="1271" y="238" width="1" height="28" fill="#ff0000"/><rect x="1270" y="245" width="3" height="20" fill="#ff0000"/><rect x="1275" y="227" width="1" height="35" fill="#ff0000"/><rect x="1274" y="231" width="3" height="16" fill="#ff0000"/><rect x="1279" y="214" width="1" height="25" fill="#ff0000"/><rect x="1278" y="223" width="3" height="10" fill="#ff0000"/><rect x="1283" y="220" width="1" height="19" fill="#00ff00"/><rect x="1282" y="223" width="3" height="15" fill="#00ff00"/><rect x="1287" y="235" width="1" height="18" fill="#00ff00"/><rect x="1286" y="236" width="3" height="15" fill="#00ff00"/><rect x="1291" y="220" width="1" height="25" fill="#ff0000"/><rect x="1290" y="228" width="3" height="15" fill="#ff0000"/><rect x="1295" y="216" width="1" height="17" fill="#ff0000"/><rect x="1294" y="219" width="3" height="11" fill="#ff0000"/><rect x="1299" y="202" width="1" height="21" fill="#ff0000"/><rect x="1298" y="206" width="3" height="15" fill="#ff0000"/><rect x="1303" y="198" width="1" height="32" fill="#00ff00"/><rect x="1302" y="206" width="3" height="16" fill="#00ff00"/><rect x="1307" y="203" width="1" height="24" fill="#ff0000"/><rect x="1306" y="210" width="3" height="11" fill="#ff0000"/><rect x="1311" y="213" width="1" height="13" fill="#00ff00"/><rect x="1310" y="215" width="3" height="8" fill="#00ff00"/><rect x="1315" y="209" width="1" height="36" fill="#00ff00"/><rect x="1314" y="222" width="3" height="16" fill="#00ff00"/><rect x="1319" y="221" width="1" height="20" fill="#ff0000"/><rect x="1318" y="225" width="3" height="13" fill="#ff0000"/><rect x="1323" y="218" width="1" height="22" fill="#ff0000"/><rect x="1322" y="223" width="3" height="4" fill="#ff0000"/><rect x="1327" y="214" width="1" height="19" fill="#ff0000"/><rect x="1326" y="219" width="3" height="5" fill="#ff0000"/><rect x="1331" y="206" width="1" height="21" fill="#ff0000"/><rect x="1330" y="210" width="3" height="12" fill="#ff0000"/><rect x="1335" y="164" width="1" height="54" fill="#ff0000"/><rect x="1334" y="183" width="3" height="30" fill="#ff0000"/><rect x="1339" y="170" width="1" height="17" fill="#ff0000"/><rect x="1338" y="181" width="3" height="5" fill="#ff0000"/></g>
<g clip-path="url(#cm)">
<polyline points="3.5,395.3 7.5,392.1 11.5,394.6 15.5,397.4 19.5,399.8 23.5,402.2 27.5,402.5 31.5,406.2 35.5,411.5 39.5,417.7 43.5,419.0 47.5,418.5 51.5,414.8 55.5,412.6 59.5,410.9 63.5,415.0 67.5,411.8 71.5,405.8 75.5,399.4 79.5,396.3 83.5,396.9 87.5,396.9 91.5,396.1 95.5,394.9 99.5,393.1 103.5,390.4 107.5,389.1 111.5,388.3 115.5,387.4 119.5,383.9 123.5,380.1 127.5,378.9 131.5,378.5 135.5,373.9 139.5,369.9 143.5,363.1 147.5,360.8 151.5,356.6 155.5,353.0 159.5,350.5 163.5,347.5 167.5,342.6 171.5,338.9 175.5,334.5 179.5,331.5 183.5,327.5 187.5,323.5 191.5,321.5 195.5,316.9 199.5,313.9 203.5,306.8 207.5,306.9 211.5,308.9 215.5,308.9 219.5,309.6 223.5,311.4 227.5,311.5 231.5,311.2 235.5,309.4 239.5,309.9 243.5,310.9 247.5,312.6 251.5,316.6 255.5,319.3 259.5,321.9 263.5,321.2 267.5,318.6 271.5,316.4 275.5,314.4 279.5,312.2 283.5,311.9 287.5,312.9 291.5,314.1 295.5,319.0 299.5,325.2 303.5,329.6 307.5,332.6 311.5,336.4 315.5,338.4 319.5,341.3 323.5,345.6 327.5,350.3 331.5,353.4 335.5,357.4 339.5,361.0 343.5,363.4 347.5,367.5 351.5,364.2 355.5,360.7 359.5,358.7 363.5,357.6 367.5,358.1 371.5,360.6 375.5,362.4 379.5,362.5 383.5,362.4 387.5,363.9 391.5,366.4 395.5,369.7 399.5,373.2 403.5,379.2 407.5,388.4 411.5,398.6 415.5,408.5 419.5,417.4 423.5,425.8 427.5,433.2 431.5,437.6 435.5,442.3 439.5,447.2 443.5,453.1 447.5,457.8 451.5,464.4 455.5,471.4 459.5,475.8 463.5,481.9 467.5,485.6 471.5,485.6 475.5,484.9 479.5,485.0 483.5,485.1 487.5,486.4 491.5,487.7 495.5,488.8 499.5,490.8 503.5,491.8 507.5,489.9 511.5,488.9 515.5,486.9 519.5,484.4 523.5,483.9 527.5,486.1 531.5,491.8 535.5,497.1 539.5,503.8 543.5,511.6 547.5,518.0 551.5,523.9 555.5,528.4 559.5,534.1 563.5,538.7 567.5,541.4 571.5,544.6 575.5,545.4 579.5,545.9 583.5,547.5 587.5,545.9 591.5,543.9 595.5,541.1 599.5,538.2 603.5,539.0 607.5,539.6 611.5,538.4 615.5,537.7 619.5,537.2 623.5,536.9 627.5,536.4 631.5,536.9 635.5,536.0 639.5,534.3 643.5,534.7 647.5,534.3 651.5,535.3 655.5,535.2 659.5,532.9 663.5,532.2 667.5,532.0 671.5,532.5 675.5,533.7 679.5,535.3 683.5,539.5 687.5,540.6 691.5,541.1 695.5,541.0 699.5,539.8 703.5,537.7 707.5,535.6 711.5,534.2 715.5,532.6 719.5,531.6 723.5,530.3 727.5,527.9 731.5,522.1 735.5,516.3 739.5,507.3 743.5,497.7 747.5,488.1 751.5,474.5 755.5,462.3 759.5,450.9 763.5,436.9 767.5,422.1 771.5,408.0 775.5,393.9 779.5,380.3 783.5,366.9 787.5,357.8 791.5,349.6 795.5,341.4 799.5,334.9 803.5,328.6 807.5,327.6 811.5,326.6 815.5,325.4 819.5,325.8 823.5,327.0 827.5,326.2 831.5,325.0 835.5,325.8 839.5,325.6 843.5,324.4 847.5,322.4 851.5,321.5 855.5,324.1 859.5,327.2 863.5,332.4 867.5,336.1 871.5,339.4 875.5,342.4 879.5,345.5 883.5,350.8 887.5,356.1 891.5,361.0 895.5,364.2 899.5,367.9 903.5,372.3 907.5,374.9 911.5,375.4 915.5,375.1 919.5,374.2 923.5,373.4 927.5,373.0 931.5,373.9 935.5,374.0 939.5,373.6 943.5,373.4 947.5,371.6 951.5,371.6 955.5,371.3 959.5,371.3 963.5,372.9 967.5,373.4 971.5,373.5 975.5,372.3 979.5,369.9 983.5,363.4 987.5,356.1 991.5,338.2 995.5,325.6 999.5,310.4 1003.5,296.0 1007.5,280.8 1011.5,265.5 1015.5,255.2 1019.5,242.6 1023.5,230.9 1027.5,220.1 1031.5,207.0 1035.5,195.4 1039.5,188.7 1043.5,180.6 1047.5,180.4 1051.5,172.1 1055.5,166.4 1059.5,160.2 1063.5,156.9 1067.5,152.1 1071.5,139.6 1075.5,130.4 1079.5,123.2 1083.5,116.4 1087.5,114.1 1091.5,110.7 1095.5,107.6 1099.5,107.6 1103.5,112.9 1107.5,121.9 1111.5,129.3 1115.5,135.4 1119.5,139.4 1123.5,144.0 1127.5,149.5 1131.5,154.4 1135.5,157.4 1139.5,158.5 1143.5,157.1 1147.5,155.1 1151.5,152.7 1155.5,148.6 1159.5,142.7 1163.5,136.6 1167.5,133.4 1171.5,129.9 1175.5,124.6 1179.5,120.5 1183.5,121.1 1187.5,123.4 1191.5,125.9 1195.5,128.7 1199.5,130.1 1203.5,134.9 1207.5,139.9 1211.5,145.3 1215.5,150.3 1219.5,154.8 1223.5,157.2 1227.5,163.1 1231.5,169.9 1235.5,176.5 1239.5,180.9 1243.5,182.9 1247.5,185.0 1251.5,189.4 1255.5,196.6 1259.5,201.4 1263.5,208.6 1267.5,214.4 1271.5,219.3 1275.5,222.4 1279.5,225.6 1283.5,228.3 1287.5,232.8 1291.5,235.7 1295.5,236.6 1299.5,236.7 1303.5,237.4 1307.5,236.2 1311.5,234.2 1315.5,234.1 1319.5,230.2 1323.5,227.4 1327.5,225.6 1331.5,224.1 1335.5,221.2 1339.5,217.2" fill="none" stroke="#ff0000" stroke-width="1" />
<polyline points="3.5,412.5 7.5,407.0 11.5,413.5 15.5,418.5 19.5,425.3 23.5,432.3 27.5,437.5 31.5,430.3 35.5,421.5 39.5,412.1 43.5,406.3 47.5,411.3 51.5,404.7 55.5,398.7 59.5,393.3 63.5,395.7 67.5,394.7 71.5,393.3 75.5,388.1 79.5,391.5 83.5,386.9 87.5,388.7 91.5,394.3 95.5,399.5 99.5,397.5 103.5,392.9 107.5,382.9 111.5,376.9 115.5,372.5 119.5,369.9 123.5,365.9 127.5,364.7 131.5,360.7 135.5,353.5 139.5,347.5 143.5,341.1 147.5,343.5 151.5,338.3 155.5,339.1 159.5,338.7 163.5,339.3 167.5,325.9 171.5,322.9 175.5,318.1 179.5,312.7 183.5,308.7 187.5,307.3 191.5,304.7 195.5,298.3 199.5,291.9 203.5,285.5 207.5,291.9 211.5,303.9 215.5,316.1 219.5,327.1 223.5,338.9 227.5,335.7 231.5,324.5 235.5,314.3 239.5,309.7 243.5,305.7 247.5,307.7 251.5,313.5 255.5,319.5 259.5,318.9 263.5,320.9 267.5,320.9 271.5,315.3 275.5,313.5 279.5,311.9 283.5,309.7 287.5,308.3 291.5,307.9 295.5,322.5 299.5,342.1 303.5,357.3 307.5,368.7 311.5,381.9 315.5,373.3 319.5,365.9 323.5,365.5 327.5,364.9 331.5,361.3 335.5,364.9 339.5,364.9 343.5,358.3 347.5,356.1 351.5,352.7 355.5,351.5 359.5,350.9 363.5,352.3 367.5,355.7 371.5,363.1 375.5,370.5 379.5,376.1 383.5,378.5 387.5,377.5 391.5,381.1 395.5,385.5 399.5,388.3 403.5,403.1 407.5,421.3 411.5,441.9 415.5,459.5 419.5,476.1 423.5,486.1 427.5,488.5 431.5,479.7 435.5,470.7 439.5,461.9 443.5,454.1 447.5,449.9 451.5,460.3 455.5,469.7 459.5,483.1 463.5,501.7 467.5,519.9 471.5,519.1 475.5,514.1 479.5,511.9 483.5,497.7 487.5,481.7 491.5,476.5 495.5,472.7 499.5,470.3 503.5,468.5 507.5,470.3 511.5,472.9 515.5,477.7 519.5,483.7 523.5,497.9 527.5,508.5 531.5,522.3 535.5,540.5 539.5,552.1 543.5,559.3 547.5,565.7 551.5,562.5 555.5,557.9 559.5,553.5 563.5,546.1 567.5,538.5 571.5,535.7 575.5,531.5 579.5,530.7 583.5,533.1 587.5,534.9 591.5,538.7 595.5,539.9 599.5,537.9 603.5,541.9 607.5,544.9 611.5,542.3 615.5,544.1 619.5,543.3 623.5,532.7 627.5,526.7 631.5,527.3 635.5,525.9 639.5,524.9 643.5,528.7 647.5,532.7 651.5,535.5 655.5,535.7 659.5,538.1 663.5,537.9 667.5,535.9 671.5,536.3 675.5,539.1 679.5,539.3 683.5,547.1 687.5,551.5 691.5,549.9 695.5,545.3 699.5,541.3 703.5,527.7 707.5,521.5 711.5,516.5 715.5,514.5 719.5,515.1 723.5,515.1 727.5,514.5 731.5,505.1 735.5,493.7 739.5,478.9 743.5,460.3 747.5,438.5 751.5,412.1 755.5,390.1 759.5,369.7 763.5,351.1 767.5,331.7 771.5,328.3 775.5,323.5 779.5,317.5 783.5,318.7 787.5,325.1 791.5,330.3 795.5,332.1 799.5,333.3 803.5,331.3 807.5,327.5 811.5,325.7 815.5,324.9 819.5,325.5 823.5,327.1 827.5,324.5 831.5,318.9 835.5,318.5 839.5,318.3 843.5,317.7 847.5,319.7 851.5,322.3 855.5,328.5 859.5,335.7 863.5,349.9 867.5,363.9 871.5,375.1 875.5,376.7 879.5,378.3 883.5,376.1 887.5,375.1 891.5,378.9 895.5,379.5 899.5,380.3 903.5,379.9 907.5,374.9 911.5,368.7 915.5,366.3 919.5,367.7 923.5,366.9 927.5,369.7 931.5,372.5 935.5,375.1 939.5,374.5 943.5,375.3 947.5,375.1 951.5,373.3 955.5,372.7 959.5,373.3 963.5,373.5 967.5,373.5 971.5,371.5 975.5,370.5 979.5,363.1 983.5,343.1 987.5,324.1 991.5,276.3 995.5,243.7 999.5,208.5 1003.5,186.3 1007.5,162.5 1011.5,169.1 1015.5,176.3 1019.5,183.9 1023.5,191.3 1027.5,201.5 1031.5,206.7 1035.5,195.7 1039.5,192.1 1043.5,183.3 1047.5,165.1 1051.5,145.9 1055.5,127.1 1059.5,106.5 1063.5,95.9 1067.5,90.1 1071.5,85.3 1075.5,83.3 1079.5,87.7 1083.5,88.1 1087.5,100.1 1091.5,114.9 1095.5,128.3 1099.5,139.7 1103.5,155.5 1107.5,167.9 1111.5,179.1 1115.5,184.1 1119.5,184.7 1123.5,177.1 1127.5,162.5 1131.5,153.7 1135.5,149.5 1139.5,141.7 1143.5,136.9 1147.5,130.7 1151.5,123.5 1155.5,115.1 1159.5,111.3 1163.5,110.5 1167.5,118.3 1171.5,120.1 1175.5,117.3 1179.5,114.9 1183.5,119.1 1187.5,125.5 1191.5,138.3 1195.5,153.3 1199.5,163.9 1203.5,169.1 1207.5,169.7 1211.5,169.5 1215.5,171.7 1219.5,179.5 1223.5,180.9 1227.5,185.1 1231.5,186.3 1235.5,188.3 1239.5,192.1 1243.5,197.5 1247.5,199.7 1251.5,207.7 1255.5,220.3 1259.5,226.7 1263.5,241.7 1267.5,251.9 1271.5,255.5 1275.5,251.7 1279.5,248.7 1283.5,240.1 1287.5,237.7 1291.5,234.3 1295.5,231.9 1299.5,228.5 1303.5,225.3 1307.5,217.3 1311.5,216.1 1315.5,219.7 1319.5,223.5 1323.5,223.9 1327.5,225.7 1331.5,223.3 1335.5,212.5 1339.5,203.7" fill="none" stroke="#ffa500" stroke-width="1" />
<polyline points="3.5,432.5 7.5,426.5 11.5,423.7 15.5,421.6 19.5,419.6 23.5,417.6 27.5,414.4 31.5,412.5 35.5,410.8 39.5,408.9 43.5,407.4 47.5,406.5 51.5,404.9 55.5,403.9 59.5,402.9 63.5,403.5 67.5,403.8 71.5,402.8 75.5,400.9 79.5,400.0 83.5,399.3 87.5,399.7 91.5,400.4 95.5,401.2 99.5,402.5 103.5,404.4 107.5,403.7 111.5,402.2 115.5,399.8 119.5,398.3 123.5,396.7 127.5,396.6 131.5,393.4 135.5,389.0 139.5,385.3 143.5,381.5 147.5,381.0 151.5,378.0 155.5,375.2 159.5,373.1 163.5,370.3 167.5,366.7 171.5,364.4 175.5,361.8 179.5,359.6 183.5,355.8 187.5,352.2 191.5,349.6 195.5,346.8 199.5,343.0 203.5,338.9 207.5,336.0 211.5,334.6 215.5,332.9 219.5,331.3 223.5,329.9 227.5,328.2 231.5,325.8 235.5,323.2 239.5,321.3 243.5,319.9 247.5,318.7 251.5,318.0 255.5,317.6 259.5,316.5 263.5,316.5 267.5,314.9 271.5,314.1 275.5,313.3 279.5,312.0 283.5,311.6 287.5,312.0 291.5,311.6 295.5,314.0 299.5,316.9 303.5,319.7 307.5,322.2 311.5,324.5 315.5,326.5 319.5,329.3 323.5,333.0 327.5,334.4 331.5,334.1 335.5,334.7 339.5,335.6 343.5,336.2 347.5,337.8 351.5,338.8 355.5,340.9 359.5,342.4 363.5,344.0 367.5,345.8 371.5,347.0 375.5,349.4 379.5,352.0 383.5,353.6 387.5,355.2 391.5,358.0 395.5,361.4 399.5,364.7 403.5,369.2 407.5,374.0 411.5,380.3 415.5,384.2 419.5,387.0 423.5,390.6 427.5,394.0 431.5,396.6 435.5,400.4 439.5,403.0 443.5,405.4 447.5,408.2 451.5,413.1 455.5,417.9 459.5,422.7 463.5,429.3 467.5,435.5 471.5,440.9 475.5,445.0 479.5,449.6 483.5,453.5 487.5,456.5 491.5,459.8 495.5,462.0 499.5,465.3 503.5,468.5 507.5,471.9 511.5,475.1 515.5,477.4 519.5,481.2 523.5,484.3 527.5,486.5 531.5,488.5 535.5,490.9 539.5,493.8 543.5,496.5 547.5,499.3 551.5,502.3 555.5,505.4 559.5,509.1 563.5,511.9 567.5,514.1 571.5,514.8 575.5,515.7 579.5,517.0 583.5,517.1 587.5,516.6 591.5,518.1 595.5,520.0 599.5,521.4 603.5,524.5 607.5,527.1 611.5,529.1 615.5,531.9 619.5,533.5 623.5,535.2 627.5,536.5 631.5,538.1 635.5,540.0 639.5,540.4 643.5,540.3 647.5,540.6 651.5,540.3 655.5,539.2 659.5,538.1 663.5,536.7 667.5,535.6 671.5,536.0 675.5,536.0 679.5,535.7 683.5,536.9 687.5,537.8 691.5,538.3 695.5,538.3 699.5,537.5 703.5,536.0 707.5,535.5 711.5,534.6 715.5,534.1 719.5,533.7 723.5,531.5 727.5,530.5 731.5,528.4 735.5,525.7 739.5,522.9 743.5,519.5 747.5,515.8 751.5,509.2 755.5,503.1 759.5,497.1 763.5,489.9 767.5,482.3 771.5,474.7 775.5,467.7 779.5,460.3 783.5,453.3 787.5,447.1 791.5,440.4 795.5,433.2 799.5,426.0 803.5,417.4 807.5,409.8 811.5,403.0 815.5,396.5 819.5,390.0 823.5,383.9 827.5,377.0 831.5,370.1 835.5,363.8 839.5,357.2 843.5,351.0 847.5,344.5 851.5,339.6 855.5,336.3 859.5,333.3 863.5,332.6 867.5,332.1 871.5,333.4 875.5,334.0 879.5,334.8 883.5,336.8 887.5,339.3 891.5,341.9 895.5,343.4 899.5,345.2 903.5,347.0 907.5,347.6 911.5,348.3 915.5,349.1 919.5,351.0 923.5,352.9 927.5,354.6 931.5,356.1 935.5,357.4 939.5,359.1 943.5,361.0 947.5,363.1 951.5,365.1 955.5,366.5 959.5,368.3 963.5,370.3 967.5,372.0 971.5,373.3 975.5,373.5 979.5,372.9 983.5,369.1 987.5,365.4 991.5,356.9 995.5,351.3 999.5,344.6 1003.5,337.5 1007.5,330.0 1011.5,321.9 1015.5,317.4 1019.5,311.8 1023.5,306.1 1027.5,301.1 1031.5,294.9 1035.5,289.0 1039.5,282.6 1043.5,275.5 1047.5,267.0 1051.5,257.1 1055.5,247.7 1059.5,237.9 1063.5,228.9 1067.5,219.5 1071.5,209.1 1075.5,199.4 1079.5,190.3 1083.5,181.3 1087.5,173.9 1091.5,166.4 1095.5,159.1 1099.5,153.1 1103.5,150.1 1107.5,147.9 1111.5,150.2 1115.5,149.1 1119.5,149.1 1123.5,148.5 1127.5,147.9 1131.5,147.6 1135.5,144.7 1139.5,142.1 1143.5,139.5 1147.5,136.1 1151.5,133.7 1155.5,131.2 1159.5,128.6 1163.5,127.3 1167.5,128.3 1171.5,129.4 1175.5,129.6 1179.5,130.0 1183.5,131.2 1187.5,134.2 1191.5,138.3 1195.5,141.3 1199.5,142.7 1203.5,144.7 1207.5,145.8 1211.5,147.4 1215.5,148.5 1219.5,149.3 1223.5,148.9 1227.5,148.6 1231.5,148.6 1235.5,149.2 1239.5,150.6 1243.5,152.3 1247.5,154.8 1251.5,157.6 1255.5,161.0 1259.5,164.7 1263.5,169.8 1267.5,175.0 1271.5,179.6 1275.5,183.8 1279.5,187.6 1283.5,191.4 1287.5,194.9 1291.5,198.6 1295.5,202.9 1299.5,206.6 1303.5,209.1 1307.5,210.2 1311.5,211.6 1315.5,213.9 1319.5,216.5 1323.5,218.2 1327.5,219.6 1331.5,220.5 1335.5,220.7 1339.5,220.5" fill="none" stroke="#0000cd" stroke-width="1" />
<rect x="3" y="48" width="1680" height="2" fill="#ff0000"/>
<rect x="3" y="148" width="1680" height="2" fill="#ff0000"/>
<rect x="3" y="249" width="1680" height="2" fill="#00ff00"/>
<rect x="3" y="349" width="1680" height="2" fill="#0000cd"/>
<rect x="3" y="429" width="1680" height="2" fill="#0000cd"/>
</g>
<g clip-path="url(#cr)">
<line x1="3" x2="1683" y1="631.5" y2="631.5" stroke="#c0c0c0" stroke-dasharray="3 3"/>
<line x1="3" x2="1683" y1="672.5" y2="672.5" stroke="#c0c0c0" stroke-dasharray="3 3"/>
<polyline points="3.5,643.1 7.5,636.7 11.5,654.7 15.5,655.9 19.5,654.1 23.5,651.6 27.5,644.0 31.5,649.2 35.5,649.2 39.5,647.1 43.5,647.9 47.5,648.9 51.5,643.9 55.5,644.5 59.5,642.8 63.5,652.2 67.5,649.9 71.5,644.5 75.5,642.0 79.5,648.9 83.5,649.5 87.5,653.5 91.5,651.1 95.5,647.6 99.5,647.1 103.5,645.2 107.5,643.8 111.5,646.0 115.5,643.9 119.5,645.6 123.5,641.9 127.5,644.1 131.5,642.7 135.5,637.4 139.5,641.3 143.5,637.6 147.5,651.4 151.5,643.1 155.5,644.0 159.5,645.5 163.5,642.9 167.5,639.6 171.5,641.8 175.5,640.8 179.5,641.7 183.5,640.3 187.5,639.1 191.5,639.8 195.5,634.9 199.5,636.0 203.5,634.6 207.5,652.7 211.5,659.2 215.5,653.6 219.5,652.9 223.5,652.2 227.5,648.1 231.5,645.8 235.5,642.0 239.5,648.9 243.5,648.9 247.5,652.3 251.5,654.6 255.5,650.1 259.5,648.1 263.5,651.8 267.5,652.6 271.5,647.4 275.5,648.0 279.5,646.1 283.5,649.5 287.5,651.8 291.5,647.5 295.5,666.0 299.5,668.9 303.5,665.3 307.5,661.8 311.5,660.4 315.5,652.1 319.5,657.3 323.5,661.6 327.5,658.3 331.5,653.6 335.5,654.4 339.5,655.8 343.5,653.2 347.5,655.4 351.5,648.8 355.5,652.6 359.5,654.8 363.5,654.8 367.5,659.3 371.5,657.5 375.5,661.1 379.5,661.1 383.5,655.8 387.5,656.3 391.5,660.9 395.5,665.3 399.5,662.4 403.5,671.0 407.5,673.8 411.5,677.6 415.5,678.1 419.5,673.3 423.5,674.9 427.5,668.3 431.5,660.2 435.5,660.8 439.5,657.3 443.5,660.8 447.5,660.5 451.5,669.2 455.5,668.5 459.5,669.9 463.5,675.9 467.5,674.8 471.5,660.5 475.5,655.2 479.5,659.2 483.5,655.2 487.5,652.6 491.5,653.7 495.5,650.1 499.5,656.2 503.5,652.9 507.5,654.2 511.5,656.1 515.5,654.8 519.5,662.0 523.5,666.3 527.5,663.1 531.5,667.1 535.5,669.6 539.5,669.9 543.5,670.5 547.5,665.4 551.5,658.9 555.5,660.9 559.5,661.5 563.5,658.2 567.5,653.5 571.5,653.7 575.5,654.6 579.5,659.7 583.5,660.9 587.5,654.5 591.5,657.4 595.5,654.3 599.5,655.4 603.5,664.0 607.5,656.3 611.5,651.8 615.5,654.8 619.5,652.4 623.5,648.8 627.5,648.2 631.5,652.9 635.5,653.4 639.5,651.3 643.5,654.3 647.5,654.0 651.5,657.1 655.5,653.2 659.5,654.5 663.5,653.4 667.5,649.7 671.5,657.3 675.5,657.7 679.5,654.1 683.5,664.3 687.5,654.9 691.5,652.5 695.5,648.5 699.5,646.8 703.5,643.3 707.5,646.8 711.5,646.3 715.5,646.6 719.5,649.4 723.5,644.2 727.5,647.0 731.5,635.4 735.5,633.7 739.5,631.8 743.5,626.3 747.5,625.2 751.5,618.4 755.5,622.9 759.5,622.7 763.5,620.3 767.5,619.2 771.5,623.3 775.5,625.5 779.5,624.5 783.5,628.4 787.5,633.1 791.5,634.9 795.5,633.0 799.5,631.1 803.5,630.1 807.5,631.8 811.5,637.9 815.5,636.6 819.5,635.7 823.5,635.5 827.5,631.7 831.5,631.7 835.5,640.9 839.5,640.1 843.5,639.3 847.5,638.1 851.5,639.7 855.5,655.2 859.5,655.8 863.5,664.9 867.5,662.9 871.5,658.6 875.5,655.0 879.5,655.6 883.5,659.7 887.5,660.0 891.5,663.9 895.5,653.7 899.5,654.6 903.5,656.9 907.5,649.2 911.5,651.6 915.5,649.3 919.5,656.6 923.5,655.1 927.5,653.7 931.5,656.1 935.5,653.0 939.5,655.1 943.5,656.3 947.5,652.4 951.5,652.0 955.5,651.1 959.5,656.4 963.5,656.8 967.5,651.9 971.5,647.0 975.5,648.6 979.5,640.8 983.5,626.7 987.5,626.0 991.5,613.4 995.5,632.7 999.5,629.9 1003.5,630.5 1007.5,629.4 1011.5,629.1 1015.5,645.2 1019.5,641.6 1023.5,641.9 1027.5,642.1 1031.5,638.7 1035.5,638.9 1039.5,640.2 1043.5,637.0 1047.5,631.9 1051.5,628.8 1055.5,629.5 1059.5,629.2 1063.5,635.7 1067.5,633.1 1071.5,630.1 1075.5,634.3 1079.5,640.7 1083.5,642.0 1087.5,649.2 1091.5,646.9 1095.5,648.9 1099.5,652.5 1103.5,657.3 1107.5,660.3 1111.5,656.2 1115.5,652.2 1119.5,651.7 1123.5,649.2 1127.5,646.2 1131.5,648.3 1135.5,648.7 1139.5,644.6 1143.5,645.1 1147.5,640.7 1151.5,641.8 1155.5,641.1 1159.5,641.7 1163.5,646.9 1167.5,652.4 1171.5,646.2 1175.5,640.8 1179.5,642.0 1183.5,654.2 1187.5,660.0 1191.5,661.0 1195.5,657.2 1199.5,653.1 1203.5,657.6 1207.5,659.1 1211.5,659.5 1215.5,658.4 1219.5,660.5 1223.5,657.9 1227.5,662.6 1231.5,658.8 1235.5,658.8 1239.5,663.0 1243.5,662.7 1247.5,664.0 1251.5,667.5 1255.5,671.7 1259.5,667.3 1263.5,674.2 1267.5,668.2 1271.5,663.1 1275.5,659.1 1279.5,656.9 1283.5,660.0 1287.5,662.7 1291.5,656.4 1295.5,654.0 1299.5,650.7 1303.5,654.5 1307.5,651.6 1311.5,654.6 1315.5,658.2 1319.5,654.8 1323.5,654.2 1327.5,653.0 1331.5,650.3 1335.5,643.2 1339.5,642.8" fill="none" stroke="#1e90ff" stroke-width="1" />
</g>
<g clip-path="url(#cd)">
<rect x="3" y="731" width="1" height="38" fill="#c0c0c0"/><rect x="7" y="730" width="1" height="39" fill="#c0c0c0"/><rect x="11" y="738" width="1" height="31" fill="#c0c0c0"/><rect x="15" y="745" width="1" height="24" fill="#c0c0c0"/><rect x="19" y="749" width="1" height="20" fill="#c0c0c0"/><rect x="23" y="752" width="1" height="17" fill="#c0c0c0"/><rect x="27" y="751" width="1" height="18" fill="#c0c0c0"/><rect x="31" y="752" width="1" height="17" fill="#c0c0c0"/><rect x="35" y="753" width="1" height="16" fill="#c0c0c0"/><rect x="39" y="753" width="1" height="16" fill="#c0c0c0"/><rect x="43" y="754" width="1" height="15" fill="#c0c0c0"/><rect x="47" y="755" width="1" height="14" fill="#c0c0c0"/><rect x="51" y="754" width="1" height="15" fill="#c0c0c0"/><rect x="55" y="753" width="1" height="16" fill="#c0c0c0"/><rect x="59" y="752" width="1" height="17" fill="#c0c0c0"/><rect x="63" y="755" width="1" height="14" fill="#c0c0c0"/><rect x="67" y="756" width="1" height="13" fill="#c0c0c0"/><rect x="71" y="755" width="1" height="14" fill="#c0c0c0"/><rect x="75" y="752" width="1" height="17" fill="#c0c0c0"/><rect x="79" y="754" width="1" height="15" fill="#c0c0c0"/><rect x="83" y="755" width="1" height="14" fill="#c0c0c0"/><rect x="87" y="758" width="1" height="11" fill="#c0c0c0"/><rect x="91" y="759" width="1" height="10" fill="#c0c0c0"/><rect x="95" y="759" width="1" height="10" fill="#c0c0c0"/><rect x="99" y="758" width="1" height="11" fill="#c0c0c0"/><rect x="103" y="757" width="1" height="12" fill="#c0c0c0"/><rect x="107" y="756" width="1" height="13" fill="#c0c0c0"/><rect x="111" y="756" width="1" height="13" fill="#c0c0c0"/><rect x="115" y="755" width="1" height="14" fill="#c0c0c0"/><rect x="119" y="755" width="1" height="14" fill="#c0c0c0"/><rect x="123" y="754" width="1" height="15" fill="#c0c0c0"/><rect x="127" y="754" width="1" height="15" fill="#c0c0c0"/><rect x="131" y="753" width="1" height="16" fill="#c0c0c0"/><rect x="135" y="751" width="1" height="18" fill="#c0c0c0"/><rect x="139" y="750" width="1" height="19" fill="#c0c0c0"/><rect x="143" y="749" width="1" height="20" fill="#c0c0c0"/><rect x="147" y="751" width="1" height="18" fill="#c0c0c0"/><rect x="151" y="750" width="1" height="19" fill="#c0c0c0"/><rect x="155" y="750" width="1" height="19" fill="#c0c0c0"/><rect x="159" y="750" width="1" height="19" fill="#c0c0c0"/><rect x="163" y="750" width="1" height="19" fill="#c0c0c0"/><rect x="167" y="748" width="1" height="21" fill="#c0c0c0"/><rect x="171" y="748" width="1" height="21" fill="#c0c0c0"/><rect x="175" y="747" width="1" height="22" fill="#c0c0c0"/><rect x="179" y="747" width="1" height="22" fill="#c0c0c0"/><rect x="183" y="747" width="1" height="22" fill="#c0c0c0"/><rect x="187" y="746" width="1" height="23" fill="#c0c0c0"/><rect x="191" y="746" width="1" height="23" fill="#c0c0c0"/><rect x="195" y="745" width="1" height="24" fill="#c0c0c0"/><rect x="199" y="744" width="1" height="25" fill="#c0c0c0"/><rect x="203" y="743" width="1" height="26" fill="#c0c0c0"/><rect x="207" y="747" width="1" height="22" fill="#c0c0c0"/><rect x="211" y="753" width="1" height="16" fill="#c0c0c0"/><rect x="215" y="756" width="1" height="13" fill="#c0c0c0"/><rect x="219" y="758" width="1" height="11" fill="#c0c0c0"/><rect x="223" y="760" width="1" height="9" fill="#c0c0c0"/><rect x="227" y="760" width="1" height="9" fill="#c0c0c0"/><rect x="231" y="759" width="1" height="10" fill="#c0c0c0"/><rect x="235" y="757" width="1" height="12" fill="#c0c0c0"/><rect x="239" y="758" width="1" height="11" fill="#c0c0c0"/><rect x="243" y="759" width="1" height="10" fill="#c0c0c0"/><rect x="247" y="760" width="1" height="9" fill="#c0c0c0"/><rect x="251" y="762" width="1" height="7" fill="#c0c0c0"/><rect x="255" y="763" width="1" height="6" fill="#c0c0c0"/><rect x="259" y="762" width="1" height="7" fill="#c0c0c0"/><rect x="263" y="763" width="1" height="6" fill="#c0c0c0"/><rect x="267" y="764" width="1" height="5" fill="#c0c0c0"/><rect x="271" y="763" width="1" height="6" fill="#c0c0c0"/><rect x="275" y="763" width="1" height="6" fill="#c0c0c0"/><rect x="279" y="762" width="1" height="7" fill="#c0c0c0"/><rect x="283" y="763" width="1" height="6" fill="#c0c0c0"/><rect x="287" y="763" width="1" height="6" fill="#c0c0c0"/><rect x="291" y="763" width="1" height="6" fill="#c0c0c0"/><rect x="295" y="768" width="1" height="2" fill="#c0c0c0"/><rect x="299" y="768" width="1" height="8" fill="#c0c0c0"/><rect x="303" y="768" width="1" height="12" fill="#c0c0c0"/><rect x="307" y="768" width="1" height="13" fill="#c0c0c0"/><rect x="311" y="768" width="1" height="14" fill="#c0c0c0"/><rect x="315" y="768" width="1" height="12" fill="#c0c0c0"/><rect x="319" y="768" width="1" height="12" fill="#c0c0c0"/><rect x="323" y="768" width="1" height="14" fill="#c0c0c0"/><rect x="327" y="768" width="1" height="15" fill="#c0c0c0"/><rect x="331" y="768" width="1" height="13" fill="#c0c0c0"/><rect x="335" y="768" width="1" height="12" fill="#c0c0c0"/><rect x="339" y="768" width="1" height="12" fill="#c0c0c0"/><rect x="343" y="768" width="1" height="10" fill="#c0c0c0"/><rect x="347" y="768" width="1" height="10" fill="#c0c0c0"/><rect x="351" y="768" width="1" height="7" fill="#c0c0c0"/><rect x="355" y="768" width="1" height="7" fill="#c0c0c0"/><rect x="359" y="768" width="1" height="7" fill="#c0c0c0"/><rect x="363" y="768" width="1" height="7" fill="#c0c0c0"/><rect x="367" y="768" width="1" height="8" fill="#c0c0c0"/><rect x="371" y="768" width="1" height="9" fill="#c0c0c0"/><rect x="375" y="768" width="1" height="10" fill="#c0c0c0"/><rect x="379" y="768" width="1" height="11" fill="#c0c0c0"/><rect x="383" y="768" width="1" height="11" fill="#c0c0c0"/><rect x="387" y="768" width="1" height="10" fill="#c0c0c0"/><rect x="391" y="768" width="1" height="11" fill="#c0c0c0"/><rect x="395" y="768" width="1" height="13" fill="#c0c0c0"/><rect x="399" y="768" width="1" height="14" fill="#c0c0c0"/><rect x="403" y="768" width="1" height="18" fill="#c0c0c0"/><rect x="407" y="768" width="1" height="23" fill="#c0c0c0"/><rect x="411" y="768" width="1" height="28" fill="#c0c0c0"/><rect x="415" y="768" width="1" height="33" fill="#c0c0c0"/><rect x="419" y="768" width="1" height="35" fill="#c0c0c0"/><rect x="423" y="768" width="1" height="37" fill="#c0c0c0"/><rect x="427" y="768" width="1" height="37" fill="#c0c0c0"/><rect x="431" y="768" width="1" height="34" fill="#c0c0c0"/><rect x="435" y="768" width="1" height="32" fill="#c0c0c0"/><rect x="439" y="768" width="1" height="28" fill="#c0c0c0"/><rect x="443" y="768" width="1" height="27" fill="#c0c0c0"/><rect x="447" y="768" width="1" height="25" fill="#c0c0c0"/><rect x="451" y="768" width="1" height="28" fill="#c0c0c0"/><rect x="455" y="768" width="1" height="29" fill="#c0c0c0"/><rect x="459" y="768" width="1" height="30" fill="#c0c0c0"/><rect x="463" y="768" width="1" height="34" fill="#c0c0c0"/><rect x="467" y="768" width="1" height="37" fill="#c0c0c0"/><rect x="471" y="768" width="1" height="34" fill="#c0c0c0"/><rect x="475" y="768" width="1" height="30" fill="#c0c0c0"/><rect x="479" y="768" width="1" height="29" fill="#c0c0c0"/><rect x="483" y="768" width="1" height="26" fill="#c0c0c0"/><rect x="487" y="768" width="1" height="22" fill="#c0c0c0"/><rect x="491" y="768" width="1" height="19" fill="#c0c0c0"/><rect x="495" y="768" width="1" height="16" fill="#c0c0c0"/><rect x="499" y="768" width="1" height="15" fill="#c0c0c0"/><rect x="503" y="768" width="1" height="13" fill="#c0c0c0"/><rect x="507" y="768" width="1" height="12" fill="#c0c0c0"/><rect x="511" y="768" width="1" height="12" fill="#c0c0c0"/><rect x="515" y="768" width="1" height="11" fill="#c0c0c0"/><rect x="519" y="768" width="1" height="13" fill="#c0c0c0"/><rect x="523" y="768" width="1" height="16" fill="#c0c0c0"/><rect x="527" y="768" width="1" height="18" fill="#c0c0c0"/><rect x="531" y="768" width="1" height="21" fill="#c0c0c0"/><rect x="535" y="768" width="1" height="25" fill="#c0c0c0"/><rect x="539" y="768" width="1" height="27" fill="#c0c0c0"/><rect x="543" y="768" width="1" height="30" fill="#c0c0c0"/><rect x="547" y="768" width="1" height="30" fill="#c0c0c0"/><rect x="551" y="768" width="1" height="28" fill="#c0c0c0"/><rect x="555" y="768" width="1" height="26" fill="#c0c0c0"/><rect x="559" y="768" width="1" height="25" fill="#c0c0c0"/><rect x="563" y="768" width="1" height="23" fill="#c0c0c0"/><rect x="567" y="768" width="1" height="20" fill="#c0c0c0"/><rect x="571" y="768" width="1" height="18" fill="#c0c0c0"/><rect x="575" y="768" width="1" height="16" fill="#c0c0c0"/><rect x="579" y="768" width="1" height="16" fill="#c0c0c0"/><rect x="583" y="768" width="1" height="16" fill="#c0c0c0"/><rect x="587" y="768" width="1" height="14" fill="#c0c0c0"/><rect x="591" y="768" width="1" height="14" fill="#c0c0c0"/><rect x="595" y="768" width="1" height="12" fill="#c0c0c0"/><rect x="599" y="768" width="1" height="11" fill="#c0c0c0"/><rect x="603" y="768" width="1" height="13" fill="#c0c0c0"/><rect x="607" y="768" width="1" height="13" fill="#c0c0c0"/><rect x="611" y="768" width="1" height="11" fill="#c0c0c0"/><rect x="615" y="768" width="1" height="10" fill="#c0c0c0"/><rect x="619" y="768" width="1" height="9" fill="#c0c0c0"/><rect x="623" y="768" width="1" height="6" fill="#c0c0c0"/><rect x="627" y="768" width="1" height="4" fill="#c0c0c0"/><rect x="631" y="768" width="1" height="4" fill="#c0c0c0"/><rect x="635" y="768" width="1" height="4" fill="#c0c0c0"/><rect x="639" y="768" width="1" height="3" fill="#c0c0c0"/><rect x="643" y="768" width="1" height="4" fill="#c0c0c0"/><rect x="647" y="768" width="1" height="4" fill="#c0c0c0"/><rect x="651" y="768" width="1" height="4" fill="#c0c0c0"/><rect x="655" y="768" width="1" height="4" fill="#c0c0c0"/><rect x="659" y="768" width="1" height="4" fill="#c0c0c0"/><rect x="663" y="768" width="1" height="4" fill="#c0c0c0"/><rect x="667" y="768" width="1" height="3" fill="#c0c0c0"/><rect x="671" y="768" width="1" height="4" fill="#c0c0c0"/><rect x="675" y="768" width="1" height="5" fill="#c0c0c0"/><rect x="679" y="768" width="1" height="5" fill="#c0c0c0"/><rect x="683" y="768" width="1" height="7" fill="#c0c0c0"/><rect x="687" y="768" width="1" height="7" fill="#c0c0c0"/><rect x="691" y="768" width="1" height="6" fill="#c0c0c0"/><rect x="695" y="768" width="1" height="4" fill="#c0c0c0"/><rect x="699" y="768" width="1" height="2" fill="#c0c0c0"/><rect x="703" y="767" width="1" height="2" fill="#c0c0c0"/><rect x="707" y="766" width="1" height="3" fill="#c0c0c0"/><rect x="711" y="765" width="1" height="4" fill="#c0c0c0"/><rect x="715" y="764" width="1" height="5" fill="#c0c0c0"/><rect x="719" y="764" width="1" height="5" fill="#c0c0c0"/><rect x="723" y="763" width="1" height="6" fill="#c0c0c0"/><rect x="727" y="762" width="1" height="7" fill="#c0c0c0"/><rect x="731" y="758" width="1" height="11" fill="#c0c0c0"/><rect x="735" y="755" width="1" height="14" fill="#c0c0c0"/><rect x="739" y="751" width="1" height="18" fill="#c0c0c0"/><rect x="743" y="746" width="1" height="23" fill="#c0c0c0"/><rect x="747" y="741" width="1" height="28" fill="#c0c0c0"/><rect x="751" y="733" width="1" height="36" fill="#c0c0c0"/><rect x="755" y="727" width="1" height="42" fill="#c0c0c0"/><rect x="759" y="723" width="1" height="46" fill="#c0c0c0"/><rect x="763" y="718" width="1" height="51" fill="#c0c0c0"/><rect x="767" y="714" width="1" height="55" fill="#c0c0c0"/><rect x="771" y="712" width="1" height="57" fill="#c0c0c0"/><rect x="775" y="712" width="1" height="57" fill="#c0c0c0"/><rect x="779" y="712" width="1" height="57" fill="#c0c0c0"/><rect x="783" y="713" width="1" height="56" fill="#c0c0c0"/><rect x="787" y="716" width="1" height="53" fill="#c0c0c0"/><rect x="791" y="719" width="1" height="50" fill="#c0c0c0"/><rect x="795" y="721" width="1" height="48" fill="#c0c0c0"/><rect x="799" y="722" width="1" height="47" fill="#c0c0c0"/><rect x="803" y="723" width="1" height="46" fill="#c0c0c0"/><rect x="807" y="725" width="1" height="44" fill="#c0c0c0"/><rect x="811" y="728" width="1" height="41" fill="#c0c0c0"/><rect x="815" y="730" width="1" height="39" fill="#c0c0c0"/><rect x="819" y="732" width="1" height="37" fill="#c0c0c0"/><rect x="823" y="734" width="1" height="35" fill="#c0c0c0"/><rect x="827" y="735" width="1" height="34" fill="#c0c0c0"/><rect x="831" y="735" width="1" height="34" fill="#c0c0c0"/><rect x="835" y="738" width="1" height="31" fill="#c0c0c0"/><rect x="839" y="740" width="1" height="29" fill="#c0c0c0"/><rect x="843" y="742" width="1" height="27" fill="#c0c0c0"/><rect x="847" y="743" width="1" height="26" fill="#c0c0c0"/><rect x="851" y="745" width="1" height="24" fill="#c0c0c0"/><rect x="855" y="749" width="1" height="20" fill="#c0c0c0"/><rect x="859" y="753" width="1" height="16" fill="#c0c0c0"/><rect x="863" y="759" width="1" height="10" fill="#c0c0c0"/><rect x="867" y="763" width="1" height="6" fill="#c0c0c0"/><rect x="871" y="766" width="1" height="3" fill="#c0c0c0"/><rect x="875" y="767" width="1" height="2" fill="#c0c0c0"/><rect x="879" y="768" width="1" height="1" fill="#c0c0c0"/><rect x="883" y="768" width="1" height="3" fill="#c0c0c0"/><rect x="887" y="768" width="1" height="4" fill="#c0c0c0"/><rect x="891" y="768" width="1" height="7" fill="#c0c0c0"/><rect x="895" y="768" width="1" height="6" fill="#c0c0c0"/><rect x="899" y="768" width="1" height="6" fill="#c0c0c0"/><rect x="903" y="768" width="1" height="6" fill="#c0c0c0"/><rect x="907" y="768" width="1" height="5" fill="#c0c0c0"/><rect x="911" y="768" width="1" height="4" fill="#c0c0c0"/><rect x="915" y="768" width="1" height="3" fill="#c0c0c0"/><rect x="919" y="768" width="1" height="4" fill="#c0c0c0"/><rect x="923" y="768" width="1" height="4" fill="#c0c0c0"/><rect x="927" y="768" width="1" height="4" fill="#c0c0c0"/><rect x="931" y="768" width="1" height="5" fill="#c0c0c0"/><rect x="935" y="768" width="1" height="4" fill="#c0c0c0"/><rect x="939" y="768" width="1" height="4" fill="#c0c0c0"/><rect x="943" y="768" width="1" height="5" fill="#c0c0c0"/><rect x="947" y="768" width="1" height="4" fill="#c0c0c0"/><rect x="951" y="768" width="1" height="4" fill="#c0c0c0"/><rect x="955" y="768" width="1" height="3" fill="#c0c0c0"/><rect x="959" y="768" width="1" height="4" fill="#c0c0c0"/><rect x="963" y="768" width="1" height="4" fill="#c0c0c0"/><rect x="967" y="768" width="1" height="4" fill="#c0c0c0"/><rect x="971" y="768" width="1" height="2" fill="#c0c0c0"/><rect x="975" y="768" width="1" height="2" fill="#c0c0c0"/><rect x="979" y="766" width="1" height="3" fill="#c0c0c0"/><rect x="983" y="760" width="1" height="9" fill="#c0c0c0"/><rect x="987" y="754" width="1" height="15" fill="#c0c0c0"/><rect x="991" y="738" width="1" height="31" fill="#c0c0c0"/><rect x="995" y="731" width="1" height="38" fill="#c0c0c0"/><rect x="999" y="724" width="1" height="45" fill="#c0c0c0"/><rect x="1003" y="719" width="1" height="50" fill="#c0c0c0"/><rect x="1007" y="715" width="1" height="54" fill="#c0c0c0"/><rect x="1011" y="712" width="1" height="57" fill="#c0c0c0"/><rect x="1015" y="717" width="1" height="52" fill="#c0c0c0"/><rect x="1019" y="719" width="1" height="50" fill="#c0c0c0"/><rect x="1023" y="721" width="1" height="48" fill="#c0c0c0"/><rect x="1027" y="723" width="1" height="46" fill="#c0c0c0"/><rect x="1031" y="723" width="1" height="46" fill="#c0c0c0"/><rect x="1035" y="724" width="1" height="45" fill="#c0c0c0"/><rect x="1039" y="726" width="1" height="43" fill="#c0c0c0"/><rect x="1043" y="725" width="1" height="44" fill="#c0c0c0"/><rect x="1047" y="722" width="1" height="47" fill="#c0c0c0"/><rect x="1051" y="717" width="1" height="52" fill="#c0c0c0"/><rect x="1055" y="714" width="1" height="55" fill="#c0c0c0"/><rect x="1059" y="712" width="1" height="57" fill="#c0c0c0"/><rect x="1063" y="714" width="1" height="55" fill="#c0c0c0"/><rect x="1067" y="713" width="1" height="56" fill="#c0c0c0"/><rect x="1071" y="712" width="1" height="57" fill="#c0c0c0"/><rect x="1075" y="712" width="1" height="57" fill="#c0c0c0"/><rect x="1079" y="716" width="1" height="53" fill="#c0c0c0"/><rect x="1083" y="719" width="1" height="50" fill="#c0c0c0"/><rect x="1087" y="726" width="1" height="43" fill="#c0c0c0"/><rect x="1091" y="730" width="1" height="39" fill="#c0c0c0"/><rect x="1095" y="735" width="1" height="34" fill="#c0c0c0"/><rect x="1099" y="740" width="1" height="29" fill="#c0c0c0"/><rect x="1103" y="747" width="1" height="22" fill="#c0c0c0"/><rect x="1107" y="754" width="1" height="15" fill="#c0c0c0"/><rect x="1111" y="759" width="1" height="10" fill="#c0c0c0"/><rect x="1115" y="760" width="1" height="9" fill="#c0c0c0"/><rect x="1119" y="761" width="1" height="8" fill="#c0c0c0"/><rect x="1123" y="761" width="1" height="8" fill="#c0c0c0"/><rect x="1127" y="760" width="1" height="9" fill="#c0c0c0"/><rect x="1131" y="760" width="1" height="9" fill="#c0c0c0"/><rect x="1135" y="760" width="1" height="9" fill="#c0c0c0"/><rect x="1139" y="759" width="1" height="10" fill="#c0c0c0"/><rect x="1143" y="758" width="1" height="11" fill="#c0c0c0"/><rect x="1147" y="755" width="1" height="14" fill="#c0c0c0"/><rect x="1151" y="754" width="1" height="15" fill="#c0c0c0"/><rect x="1155" y="753" width="1" height="16" fill="#c0c0c0"/><rect x="1159" y="752" width="1" height="17" fill="#c0c0c0"/><rect x="1163" y="753" width="1" height="16" fill="#c0c0c0"/><rect x="1167" y="755" width="1" height="14" fill="#c0c0c0"/><rect x="1171" y="756" width="1" height="13" fill="#c0c0c0"/><rect x="1175" y="754" width="1" height="15" fill="#c0c0c0"/><rect x="1179" y="753" width="1" height="16" fill="#c0c0c0"/><rect x="1183" y="756" width="1" height="13" fill="#c0c0c0"/><rect x="1187" y="761" width="1" height="8" fill="#c0c0c0"/><rect x="1191" y="766" width="1" height="3" fill="#c0c0c0"/><rect x="1195" y="768" width="1" height="1" fill="#c0c0c0"/><rect x="1199" y="768" width="1" height="2" fill="#c0c0c0"/><rect x="1203" y="768" width="1" height="4" fill="#c0c0c0"/><rect x="1207" y="768" width="1" height="6" fill="#c0c0c0"/><rect x="1211" y="768" width="1" height="8" fill="#c0c0c0"/><rect x="1215" y="768" width="1" height="9" fill="#c0c0c0"/><rect x="1219" y="768" width="1" height="11" fill="#c0c0c0"/><rect x="1223" y="768" width="1" height="11" fill="#c0c0c0"/><rect x="1227" y="768" width="1" height="13" fill="#c0c0c0"/><rect x="1231" y="768" width="1" height="13" fill="#c0c0c0"/><rect x="1235" y="768" width="1" height="14" fill="#c0c0c0"/><rect x="1239" y="768" width="1" height="15" fill="#c0c0c0"/><rect x="1243" y="768" width="1" height="16" fill="#c0c0c0"/><rect x="1247" y="768" width="1" height="17" fill="#c0c0c0"/><rect x="1251" y="768" width="1" height="19" fill="#c0c0c0"/><rect x="1255" y="768" width="1" height="22" fill="#c0c0c0"/><rect x="1259" y="768" width="1" height="23" fill="#c0c0c0"/><rect x="1263" y="768" width="1" height="27" fill="#c0c0c0"/><rect x="1267" y="768" width="1" height="29" fill="#c0c0c0"/><rect x="1271" y="768" width="1" height="28" fill="#c0c0c0"/><rect x="1275" y="768" width="1" height="26" fill="#c0c0c0"/><rect x="1279" y="768" width="1" height="24" fill="#c0c0c0"/><rect x="1283" y="768" width="1" height="23" fill="#c0c0c0"/><rect x="1287" y="768" width="1" height="23" fill="#c0c0c0"/><rect x="1291" y="768" width="1" height="21" fill="#c0c0c0"/><rect x="1295" y="768" width="1" height="18" fill="#c0c0c0"/><rect x="1299" y="768" width="1" height="15" fill="#c0c0c0"/><rect x="1303" y="768" width="1" height="14" fill="#c0c0c0"/><rect x="1307" y="768" width="1" height="12" fill="#c0c0c0"/><rect x="1311" y="768" width="1" height="11" fill="#c0c0c0"/><rect x="1315" y="768" width="1" height="11" fill="#c0c0c0"/><rect x="1319" y="768" width="1" height="10" fill="#c0c0c0"/><rect x="1323" y="768" width="1" height="10" fill="#c0c0c0"/><rect x="1327" y="768" width="1" height="8" fill="#c0c0c0"/><rect x="1331" y="768" width="1" height="7" fill="#c0c0c0"/><rect x="1335" y="768" width="1" height="3" fill="#c0c0c0"/><rect x="1339" y="767" width="1" height="2" fill="#c0c0c0"/>
<polyline points="3.5,714.0 7.5,716.8 11.5,720.5 15.5,724.9 19.5,730.0 23.5,734.9 27.5,738.9 31.5,742.2 35.5,745.0 39.5,747.6 43.5,750.2 47.5,752.1 51.5,753.1 55.5,753.5 59.5,753.5 63.5,753.9 67.5,754.4 71.5,754.5 75.5,754.4 79.5,754.4 83.5,754.3 87.5,754.8 91.5,755.5 95.5,756.2 99.5,756.6 103.5,756.8 107.5,757.0 111.5,757.4 115.5,757.5 119.5,757.6 123.5,757.2 127.5,756.6 131.5,756.0 135.5,755.2 139.5,754.4 143.5,753.6 147.5,753.0 151.5,752.5 155.5,751.9 159.5,751.5 163.5,751.1 167.5,750.5 171.5,750.1 175.5,749.8 179.5,749.6 183.5,749.1 187.5,748.6 191.5,748.2 195.5,747.6 199.5,746.9 203.5,746.4 207.5,746.3 211.5,747.0 215.5,748.0 219.5,749.3 223.5,750.8 227.5,752.3 231.5,754.0 235.5,755.5 239.5,757.1 243.5,758.4 247.5,759.2 251.5,759.9 255.5,760.4 259.5,760.6 263.5,761.0 267.5,761.5 271.5,762.2 275.5,762.8 279.5,763.2 283.5,763.4 287.5,763.6 291.5,763.6 295.5,764.3 299.5,765.6 303.5,767.2 307.5,769.1 311.5,771.1 315.5,773.0 319.5,774.8 323.5,776.8 327.5,778.9 331.5,780.1 335.5,780.6 339.5,780.6 343.5,780.3 347.5,779.8 351.5,779.2 355.5,778.6 359.5,777.7 363.5,776.9 367.5,776.3 371.5,775.9 375.5,775.7 379.5,775.8 383.5,775.9 387.5,776.2 391.5,776.8 395.5,777.5 399.5,778.4 403.5,779.5 407.5,781.1 411.5,783.2 415.5,785.6 419.5,788.3 423.5,791.2 427.5,794.1 431.5,796.3 435.5,798.3 439.5,799.4 443.5,799.8 447.5,799.5 451.5,798.9 455.5,798.2 459.5,797.5 463.5,797.2 467.5,797.5 471.5,797.8 475.5,798.1 479.5,798.2 483.5,798.3 487.5,797.6 491.5,796.5 495.5,794.9 499.5,792.8 503.5,790.1 507.5,787.6 511.5,785.5 515.5,783.5 519.5,782.1 523.5,781.5 527.5,781.4 531.5,782.0 535.5,783.1 539.5,784.7 543.5,786.7 547.5,788.7 551.5,790.6 555.5,792.1 559.5,793.1 563.5,793.7 567.5,793.6 571.5,792.8 575.5,791.5 579.5,789.9 583.5,788.4 587.5,786.9 591.5,785.5 595.5,784.1 599.5,782.7 603.5,781.9 607.5,781.4 611.5,780.8 615.5,780.2 619.5,779.4 623.5,778.5 627.5,777.5 631.5,776.6 635.5,775.8 639.5,774.7 643.5,773.7 647.5,772.9 651.5,772.2 655.5,771.7 659.5,771.5 663.5,771.4 667.5,771.3 671.5,771.3 675.5,771.4 679.5,771.6 683.5,772.0 687.5,772.3 691.5,772.5 695.5,772.5 699.5,772.3 703.5,772.0 707.5,771.4 711.5,770.6 715.5,769.8 719.5,768.6 723.5,767.3 727.5,766.1 731.5,764.7 735.5,763.1 739.5,761.4 743.5,759.2 747.5,756.6 751.5,753.1 755.5,749.0 759.5,744.6 763.5,739.7 767.5,734.8 771.5,730.1 775.5,725.8 779.5,722.0 783.5,718.8 787.5,717.0 791.5,716.1 795.5,715.9 799.5,716.3 803.5,717.4 807.5,718.8 811.5,720.5 815.5,722.6 819.5,724.7 823.5,726.7 827.5,728.4 831.5,730.0 835.5,731.7 839.5,733.6 843.5,735.4 847.5,737.1 851.5,738.7 855.5,740.6 859.5,742.7 863.5,745.4 867.5,748.4 871.5,751.5 875.5,754.5 879.5,757.4 883.5,760.4 887.5,763.4 891.5,766.1 895.5,768.3 899.5,769.9 903.5,771.0 907.5,771.7 911.5,772.2 915.5,772.5 919.5,772.6 923.5,772.6 927.5,772.3 931.5,772.2 935.5,772.0 939.5,771.8 943.5,771.7 947.5,771.7 951.5,771.8 955.5,771.7 959.5,771.7 963.5,771.7 967.5,771.5 971.5,771.3 975.5,771.0 979.5,770.4 983.5,769.1 987.5,767.2 991.5,763.6 995.5,759.2 999.5,754.0 1003.5,748.3 1007.5,742.2 1011.5,735.9 1015.5,730.4 1019.5,725.9 1023.5,722.2 1027.5,720.6 1031.5,719.7 1035.5,719.7 1039.5,720.4 1043.5,721.6 1047.5,722.7 1051.5,722.7 1055.5,722.2 1059.5,721.3 1063.5,720.2 1067.5,719.1 1071.5,717.7 1075.5,716.2 1079.5,715.2 1083.5,714.9 1087.5,715.9 1091.5,717.6 1095.5,720.1 1099.5,723.1 1103.5,726.9 1107.5,731.6 1111.5,736.8 1115.5,741.7 1119.5,746.4 1123.5,750.4 1127.5,753.7 1131.5,756.5 1135.5,758.7 1139.5,759.9 1143.5,760.3 1147.5,759.9 1151.5,759.2 1155.5,758.2 1159.5,757.2 1163.5,756.4 1167.5,755.9 1171.5,755.4 1175.5,754.8 1179.5,754.3 1183.5,754.3 1187.5,755.1 1191.5,756.6 1195.5,758.4 1199.5,760.2 1203.5,761.9 1207.5,763.8 1211.5,766.2 1215.5,768.8 1219.5,771.2 1223.5,773.1 1227.5,774.7 1231.5,776.0 1235.5,777.4 1239.5,778.6 1243.5,779.7 1247.5,780.7 1251.5,781.8 1255.5,783.0 1259.5,784.4 1263.5,786.0 1267.5,787.7 1271.5,789.3 1275.5,790.6 1279.5,791.5 1283.5,792.1 1287.5,792.6 1291.5,792.5 1295.5,792.0 1299.5,790.6 1303.5,789.0 1307.5,787.1 1311.5,785.4 1315.5,784.0 1319.5,782.6 1323.5,781.1 1327.5,779.7 1331.5,778.4 1335.5,777.0 1339.5,775.5" fill="none" stroke="#ff0000" stroke-width="1" stroke-dasharray="3 3"/>
</g>
<rect x="2" y="27" width="1682" height="1" fill="#000"/>
<rect x="2" y="597" width="1682" height="1" fill="#000"/>
<rect x="2" y="599" width="1682" height="1" fill="#000"/>
<rect x="2" y="703" width="1682" height="1" fill="#000"/>
<rect x="2" y="705" width="1682" height="1" fill="#000"/>
<rect x="2" y="809" width="1682" height="1" fill="#000"/>
<rect x="2" y="27" width="1" height="783" fill="#000"/>
<rect x="1683" y="27" width="1" height="783" fill="#000"/>
<rect x="1684" y="808" width="1" height="1" fill="#000"/>
<rect x="1684" y="33" width="2" height="1" fill="#000"/>
<rect x="1684" y="66" width="2" height="1" fill="#000"/>
<rect x="1684" y="99" width="2" height="1" fill="#000"/>
<rect x="1684" y="132" width="2" height="1" fill="#000"/>
<rect x="1684" y="165" width="2" height="1" fill="#000"/>
<rect x="1684" y="198" width="2" height="1" fill="#000"/>
<rect x="1684" y="231" width="2" height="1" fill="#000"/>
<rect x="1684" y="264" width="2" height="1" fill="#000"/>
<rect x="1684" y="297" width="2" height="1" fill="#000"/>
<rect x="1684" y="330" width="2" height="1" fill="#000"/>
<rect x="1684" y="363" width="2" height="1" fill="#000"/>
<rect x="1684" y="396" width="2" height="1" fill="#000"/>
<rect x="1684" y="462" width="2" height="1" fill="#000"/>
<rect x="1684" y="495" width="2" height="1" fill="#000"/>
<rect x="1684" y="528" width="2" height="1" fill="#000"/>
<rect x="1684" y="561" width="2" height="1" fill="#000"/>
<rect x="1684" y="594" width="2" height="1" fill="#000"/>
<rect x="1684" y="601" width="1" height="1" fill="#000"/>
<rect x="1684" y="631" width="2" height="1" fill="#000"/>
<rect x="1684" y="672" width="2" height="1" fill="#000"/>
<rect x="1684" y="701" width="1" height="1" fill="#000"/>
<rect x="1684" y="707" width="1" height="1" fill="#000"/>
<rect x="1684" y="769" width="2" height="1" fill="#000"/>
<rect x="3" y="810" width="1" height="3" fill="#000"/>
<rect x="67" y="810" width="1" height="3" fill="#000"/>
<rect x="131" y="810" width="1" height="3" fill="#000"/>
<rect x="195" y="810" width="1" height="3" fill="#000"/>
<rect x="259" y="810" width="1" height="3" fill="#000"/>
<rect x="323" y="810" width="1" height="3" fill="#000"/>
<rect x="387" y="810" width="1" height="3" fill="#000"/>
<rect x="451" y="810" width="1" height="3" fill="#000"/>
<rect x="515" y="810" width="1" height="3" fill="#000"/>
<rect x="579" y="810" width="1" height="3" fill="#000"/>
<rect x="643" y="810" width="1" height="3" fill="#000"/>
<rect x="707" y="810" width="1" height="3" fill="#000"/>
<rect x="771" y="810" width="1" height="3" fill="#000"/>
<rect x="835" y="810" width="1" height="3" fill="#000"/>
<rect x="899" y="810" width="1" height="3" fill="#000"/>
<rect x="963" y="810" width="1" height="3" fill="#000"/>
<rect x="1027" y="810" width="1" height="3" fill="#000"/>
<rect x="1091" y="810" width="1" height="3" fill="#000"/>
<rect x="1155" y="810" width="1" height="3" fill="#000"/>
<rect x="1219" y="810" width="1" height="3" fill="#000"/>
<rect x="1283" y="810" width="1" height="3" fill="#000"/>
<polygon points="1340,28 1350,28 1345,33" fill="#c0c0c0"/>
<rect x="2" y="146" width="6" height="6" fill="#ff0000"/>
<rect x="4" y="148" width="2" height="2" fill="#fff"/>
<rect x="2" y="247" width="6" height="6" fill="#00ff00"/>
<rect x="4" y="249" width="2" height="2" fill="#fff"/>
<rect x="1677" y="146" width="6" height="6" fill="#ff0000"/>
<rect x="1679" y="148" width="2" height="2" fill="#fff"/>
<rect x="1677" y="247" width="6" height="6" fill="#00ff00"/>
<rect x="1679" y="249" width="2" height="2" fill="#fff"/>
<polygon points="6,34 14,34 10,38.5" fill="#000"/>
<!-- toolbar icons -->
<g fill="#404040">
<rect x="1" y="4" width="1" height="1"/><rect x="3" y="4" width="1" height="1"/><rect x="5" y="4" width="1" height="1"/><rect x="7" y="4" width="1" height="1"/><rect x="9" y="4" width="1" height="1"/><rect x="11" y="4" width="1" height="1"/><rect x="1" y="7" width="1" height="1"/><rect x="3" y="7" width="1" height="1"/><rect x="5" y="7" width="1" height="1"/><rect x="7" y="7" width="1" height="1"/><rect x="9" y="7" width="1" height="1"/><rect x="11" y="7" width="1" height="1"/><rect x="1" y="11" width="1" height="1"/><rect x="3" y="11" width="1" height="1"/><rect x="5" y="11" width="1" height="1"/><rect x="7" y="11" width="1" height="1"/><rect x="9" y="11" width="1" height="1"/><rect x="11" y="11" width="1" height="1"/>
<rect x="1" y="15" width="1" height="1"/><rect x="3" y="15" width="1" height="1"/><rect x="5" y="15" width="1" height="1"/><rect x="7" y="15" width="1" height="1"/>
<rect x="56" y="5" width="1" height="1"/><rect x="58" y="5" width="1" height="1"/><rect x="60" y="5" width="1" height="1"/><rect x="62" y="5" width="1" height="1"/><rect x="64" y="5" width="1" height="1"/><rect x="66" y="5" width="1" height="1"/><rect x="56" y="17" width="1" height="1"/><rect x="58" y="17" width="1" height="1"/><rect x="60" y="17" width="1" height="1"/><rect x="62" y="17" width="1" height="1"/><rect x="64" y="17" width="1" height="1"/><rect x="66" y="17" width="1" height="1"/>
<rect x="56" y="7" width="1" height="1"/><rect x="56" y="9" width="1" height="1"/><rect x="56" y="11" width="1" height="1"/><rect x="56" y="13" width="1" height="1"/><rect x="56" y="15" width="1" height="1"/><rect x="67" y="7" width="1" height="1"/><rect x="67" y="9" width="1" height="1"/><rect x="67" y="11" width="1" height="1"/><rect x="67" y="13" width="1" height="1"/><rect x="67" y="15" width="1" height="1"/>
<polygon points="83,8.5 86.5,4.5 90,8.5 88.5,10 84.5,10"/><polygon points="90,14.5 93.5,18.5 97,14.5 95.5,13 91.5,13"/>
<polyline points="85,12.5 87.5,14.5 92,9.5" fill="none" stroke="#404040" stroke-width="1.2" shape-rendering="auto"/>
<rect x="55" y="4" width="2" height="1"/>
</g>
<polygon points="99.5,10 105.5,10 102.5,13" fill="#000"/>
<rect x="115" y="1" width="3" height="1" fill="#808080"/><rect x="115" y="3" width="3" height="1" fill="#808080"/><rect x="115" y="5" width="3" height="1" fill="#808080"/><rect x="115" y="7" width="3" height="1" fill="#808080"/><rect x="115" y="9" width="3" height="1" fill="#808080"/><rect x="115" y="11" width="3" height="1" fill="#808080"/><rect x="115" y="13" width="3" height="1" fill="#808080"/><rect x="115" y="15" width="3" height="1" fill="#808080"/><rect x="115" y="17" width="3" height="1" fill="#808080"/><rect x="115" y="19" width="3" height="1" fill="#808080"/>
<polygon points="1702.6,837.4 1702.6,844.6 1698.4,841" fill="#a0a0a0"/><polygon points="1717.4,837.4 1717.4,844.6 1721.6,841" fill="#a0a0a0"/>
</svg>
<div class="ax" style="left:1688px;top:29px;">7.21640</div>
<div class="ax" style="left:1688px;top:62px;">7.18410</div>
<div class="ax" style="left:1688px;top:95px;">7.15085</div>
<div class="ax" style="left:1688px;top:128px;">7.11855</div>
<div class="ax" style="left:1688px;top:161px;">7.08530</div>
<div class="ax" style="left:1688px;top:194px;">7.05205</div>
<div class="ax" style="left:1688px;top:227px;">7.01975</div>
<div class="ax" style="left:1688px;top:260px;">6.98650</div>
<div class="ax" style="left:1688px;top:293px;">6.95420</div>
<div class="ax" style="left:1688px;top:326px;">6.92095</div>
<div class="ax" style="left:1688px;top:359px;">6.88865</div>
<div class="ax" style="left:1688px;top:392px;">6.85540</div>
<div class="ax" style="left:1688px;top:458px;">6.78985</div>
<div class="ax" style="left:1688px;top:491px;">6.75660</div>
<div class="ax" style="left:1688px;top:524px;">6.72430</div>
<div class="ax" style="left:1688px;top:557px;">6.69105</div>
<div class="ax" style="left:1688px;top:590px;">6.65875</div>
<div class="bx" style="top:43px;background:#ff0000;color:#fff"><span>7.20024</span></div>
<div class="bx" style="top:143px;background:#ff0000;color:#fff"><span>7.10091</span></div>
<div class="bx" style="top:176px;background:#000;color:#fff"><span>7.06900</span></div>
<div class="bx" style="top:244px;background:#00ff00;color:#fff"><span>7.00058</span></div>
<div class="bx" style="top:344px;background:#0000cd;color:#fff"><span>6.90125</span></div>
<div class="bx" style="top:424px;background:#0000cd;color:#fff"><span>6.82178</span></div>
<div class="ax" style="left:1687px;top:602px;">100</div>
<div class="ax" style="left:1687px;top:627px;">70</div>
<div class="ax" style="left:1687px;top:668px;">30</div>
<div class="ax" style="left:1687px;top:692px;">0</div>
<div class="ax" style="left:1687px;top:708px;">0.060687</div>
<div class="ax" style="left:1687px;top:764px;">0.00</div>
<div class="ax" style="left:1687px;top:798px;">-0.040432</div>
<div class="ax ttl" style="left:18px;top:31px;"><span style="letter-spacing:.58px">USDCNH-,Daily</span></div>
<div class="ax" style="left:92px;top:31px;">7.06662 7.08027 7.06567 7.06900</div>
<div class="ax" style="left:7px;top:604px;letter-spacing:.24px">RSI(14) 58.9718</div>
<div class="ax" style="left:7px;top:710px;"><span style="letter-spacing:.38px">MACD(12,26,9)</span> 0.000605 -0.006896</div>
<div class="ax dt" style="left:2px;top:814px;letter-spacing:.17px">22 Aug 2018</div>
<div class="ax dt" style="left:66px;top:814px;letter-spacing:.17px">13 Sep 2018</div>
<div class="ax dt" style="left:130px;top:814px;letter-spacing:.17px">5 Oct 2018</div>
<div class="ax dt" style="left:194px;top:814px;letter-spacing:.17px">29 Oct 2018</div>
<div class="ax dt" style="left:258px;top:814px;letter-spacing:.17px">20 Nov 2018</div>
<div class="ax dt" style="left:322px;top:814px;letter-spacing:.17px">12 Dec 2018</div>
<div class="ax dt" style="left:386px;top:814px;letter-spacing:.17px">3 Jan 2019</div>
<div class="ax dt" style="left:450px;top:814px;letter-spacing:.17px">25 Jan 2019</div>
<div class="ax dt" style="left:514px;top:814px;letter-spacing:.17px">18 Feb 2019</div>
<div class="ax dt" style="left:578px;top:814px;letter-spacing:.17px">12 Mar 2019</div>
<div class="ax dt" style="left:642px;top:814px;letter-spacing:.17px">3 Apr 2019</div>
<div class="ax dt" style="left:706px;top:814px;letter-spacing:.17px">26 Apr 2019</div>
<div class="ax dt" style="left:770px;top:814px;letter-spacing:.17px">20 May 2019</div>
<div class="ax dt" style="left:834px;top:814px;letter-spacing:.17px">11 Jun 2019</div>
<div class="ax dt" style="left:898px;top:814px;letter-spacing:.17px">3 Jul 2019</div>
<div class="ax dt" style="left:962px;top:814px;letter-spacing:.17px">25 Jul 2019</div>
<div class="ax dt" style="left:1026px;top:814px;letter-spacing:.17px">16 Aug 2019</div>
<div class="ax dt" style="left:1090px;top:814px;letter-spacing:.17px">9 Sep 2019</div>
<div class="ax dt" style="left:1154px;top:814px;letter-spacing:.17px">1 Oct 2019</div>
<div class="ax dt" style="left:1218px;top:814px;letter-spacing:.17px">23 Oct 2019</div>
<div class="ax dt" style="left:1282px;top:814px;letter-spacing:.17px">14 Nov 2019</div>
</body></html>
